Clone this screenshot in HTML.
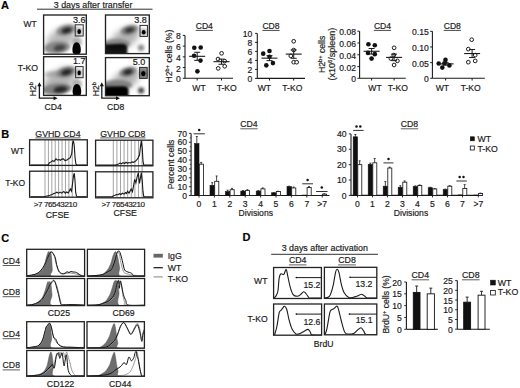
<!DOCTYPE html>
<html><head><meta charset="utf-8"><style>
html,body{margin:0;padding:0;background:#fff;}
svg{display:block;}
text{font-family:"Liberation Sans",sans-serif;stroke:#1a1a1a;stroke-width:0.18px;}
</style></head><body>
<svg width="520" height="388" viewBox="0 0 520 388">
<defs>
<filter id="b05" x="-50%" y="-50%" width="200%" height="200%"><feGaussianBlur stdDeviation="0.45"/></filter>
<filter id="b1" x="-50%" y="-50%" width="200%" height="200%"><feGaussianBlur stdDeviation="0.8"/></filter>
<filter id="b2" x="-50%" y="-50%" width="200%" height="200%"><feGaussianBlur stdDeviation="1.6"/></filter>
<filter id="b3" x="-50%" y="-50%" width="200%" height="200%"><feGaussianBlur stdDeviation="3"/></filter>
<filter id="speck" x="0" y="0" width="100%" height="100%" filterUnits="userSpaceOnUse"><feTurbulence type="fractalNoise" baseFrequency="1.0" numOctaves="2" seed="7" result="n"/><feColorMatrix in="n" type="matrix" values="0 0 0 0 0  0 0 0 0 0  0 0 0 0 0  5 0 0 0 -2.0" result="na"/><feComposite in="SourceGraphic" in2="na" operator="in" result="c"/><feGaussianBlur in="c" stdDeviation="0.35"/></filter>
</defs>
<rect x="0" y="0" width="520" height="388" fill="#fff"/>
<text x="1" y="9.4" font-size="11" text-anchor="start" fill="#000" font-weight="bold">A</text>
<text x="93.1" y="7.6" font-size="8.85" text-anchor="middle" fill="#1a1a1a">3 days after transfer</text>
<line x1="37" y1="9.2" x2="152.5" y2="9.2" stroke="#1a1a1a" stroke-width="0.9"/>
<text x="30.2" y="27.1" font-size="8.5" text-anchor="middle" fill="#1a1a1a">WT</text>
<text x="28.0" y="70.6" font-size="8.7" text-anchor="middle" fill="#1a1a1a">T-KO</text>
<clipPath id="c4315"><rect x="43.6" y="15.0" width="42.7" height="39.2"/></clipPath>
<g clip-path="url(#c4315)">
<rect x="43.6" y="15.0" width="42.7" height="39.2" fill="#fff" stroke="none" stroke-width="1"/>
<g filter="url(#speck)"><ellipse cx="61" cy="39" rx="17" ry="10" fill="#000" opacity="0.55" transform="rotate(-35 61 39)" filter="url(#b3)"/><ellipse cx="57" cy="47.5" rx="13" ry="6" fill="#000" opacity="0.9" transform="rotate(-5 57 47.5)" filter="url(#b2)"/><ellipse cx="66" cy="30" rx="10" ry="5" fill="#000" opacity="0.9" transform="rotate(-15 66 30)" filter="url(#b2)"/><ellipse cx="77" cy="42" rx="5" ry="5" fill="#000" opacity="0.6" transform="rotate(0 77 42)" filter="url(#b2)"/></g>
<ellipse cx="59.5" cy="47.8" rx="6" ry="3" fill="#000" opacity="0.5" transform="rotate(-10 59.5 47.8)" filter="url(#b2)"/>
<ellipse cx="66.6" cy="30.4" rx="5" ry="2.6" fill="#000" opacity="0.75" transform="rotate(-15 66.6 30.4)" filter="url(#b2)"/>
<path d="M76.6 42.3 C79.53999999999999 42.3 80.8 46.57 80.8 49.864 C80.8 54.5 78.69999999999999 54.5 76.6 54.5 C74.5 54.5 72.39999999999999 54.5 72.39999999999999 49.864 C72.39999999999999 46.57 73.66 42.3 76.6 42.3 Z" fill="#000" opacity="1.0" filter="url(#b05)"/>
</g>
<rect x="43.6" y="15.0" width="42.7" height="39.2" fill="none" stroke="#222" stroke-width="1.35"/>
<rect x="75.2" y="24.8" width="8.0" height="11.2" fill="none" stroke="#2a2a2a" stroke-width="1.0"/>
<ellipse cx="79.2" cy="31.4" rx="3.42" ry="4.25" fill="#000" opacity="0.25" filter="url(#b1)"/>
<ellipse cx="79.2" cy="31.4" rx="1.8" ry="2.5" fill="#000" filter="url(#b05)"/>
<text x="85.6" y="22.6" font-size="9.0" text-anchor="end" fill="#111">3.6</text>
<clipPath id="c4356"><rect x="43.6" y="56.7" width="42.7" height="38.7"/></clipPath>
<g clip-path="url(#c4356)">
<rect x="43.6" y="56.7" width="42.7" height="38.7" fill="#fff" stroke="none" stroke-width="1"/>
<g filter="url(#speck)"><ellipse cx="60" cy="80" rx="18" ry="10" fill="#000" opacity="0.6" transform="rotate(-30 60 80)" filter="url(#b3)"/><ellipse cx="52" cy="74" rx="8" ry="3" fill="#000" opacity="0.5" transform="rotate(-5 52 74)" filter="url(#b2)"/><ellipse cx="57" cy="89" rx="15" ry="5.5" fill="#000" opacity="1.0" transform="rotate(-5 57 89)" filter="url(#b2)"/><ellipse cx="66" cy="72" rx="10" ry="5" fill="#000" opacity="1.0" transform="rotate(-15 66 72)" filter="url(#b2)"/><ellipse cx="77" cy="84" rx="5" ry="5" fill="#000" opacity="0.6" transform="rotate(0 77 84)" filter="url(#b2)"/></g>
<ellipse cx="60.5" cy="89.5" rx="7" ry="3.3" fill="#000" opacity="0.7" transform="rotate(-8 60.5 89.5)" filter="url(#b2)"/>
<ellipse cx="66.5" cy="72.2" rx="5.5" ry="2.8" fill="#000" opacity="0.75" transform="rotate(-15 66.5 72.2)" filter="url(#b2)"/>
<path d="M76.9 84.0 C79.91000000000001 84.0 81.2 88.2 81.2 91.44 C81.2 96 79.05000000000001 96 76.9 96 C74.75 96 72.60000000000001 96 72.60000000000001 91.44 C72.60000000000001 88.2 73.89 84.0 76.9 84.0 Z" fill="#000" opacity="1.0" filter="url(#b05)"/>
</g>
<rect x="43.6" y="56.7" width="42.7" height="38.7" fill="none" stroke="#222" stroke-width="1.35"/>
<rect x="75.6" y="66.6" width="7.5" height="11.1" fill="none" stroke="#2a2a2a" stroke-width="1.0"/>
<ellipse cx="79.2" cy="72.9" rx="3.23" ry="4.08" fill="#000" opacity="0.25" filter="url(#b1)"/>
<ellipse cx="79.2" cy="72.9" rx="1.7" ry="2.4" fill="#000" filter="url(#b05)"/>
<text x="85.6" y="64.0" font-size="9.0" text-anchor="end" fill="#111">1.7</text>
<clipPath id="c10515"><rect x="105.5" y="15.0" width="43.8" height="38.6"/></clipPath>
<g clip-path="url(#c10515)">
<rect x="105.5" y="15.0" width="43.8" height="38.6" fill="#fff" stroke="none" stroke-width="1"/>
<g filter="url(#speck)"><ellipse cx="125" cy="38" rx="16" ry="9" fill="#000" opacity="0.6" transform="rotate(-30 125 38)" filter="url(#b3)"/><ellipse cx="116" cy="44" rx="14" ry="5" fill="#000" opacity="0.9" transform="rotate(0 116 44)" filter="url(#b2)"/><ellipse cx="129.4" cy="30" rx="9" ry="4.5" fill="#000" opacity="1.0" transform="rotate(-15 129.4 30)" filter="url(#b2)"/><ellipse cx="141" cy="47.8" rx="3.5" ry="3.5" fill="#000" opacity="0.7" transform="rotate(0 141 47.8)" filter="url(#b2)"/></g>
<path d="M104 44.5 L121.5 43.8 Q127 44 127.3 47.5 L127.3 55 L104 55 Z" fill="#000" opacity="0.92" filter="url(#b1)"/>
<ellipse cx="129.6" cy="30.0" rx="4.5" ry="2.3" fill="#000" opacity="0.65" transform="rotate(-15 129.6 30.0)" filter="url(#b2)"/>
<ellipse cx="141" cy="47.8" rx="2.0" ry="2.0" fill="#000" opacity="0.2" transform="rotate(0 141 47.8)" filter="url(#b2)"/>
</g>
<rect x="105.5" y="15.0" width="43.8" height="38.6" fill="none" stroke="#222" stroke-width="1.35"/>
<rect x="140.0" y="25.4" width="7.4" height="11.0" fill="none" stroke="#2a2a2a" stroke-width="1.0"/>
<ellipse cx="143.7" cy="32.2" rx="3.61" ry="3.74" fill="#000" opacity="0.25" filter="url(#b1)"/>
<ellipse cx="143.7" cy="32.2" rx="1.9" ry="2.2" fill="#000" filter="url(#b05)"/>
<text x="146.8" y="22.6" font-size="9.0" text-anchor="end" fill="#111">3.8</text>
<clipPath id="c10557"><rect x="105.5" y="57.6" width="43.8" height="38.1"/></clipPath>
<g clip-path="url(#c10557)">
<rect x="105.5" y="57.6" width="43.8" height="38.1" fill="#fff" stroke="none" stroke-width="1"/>
<g filter="url(#speck)"><ellipse cx="125" cy="80" rx="16" ry="9" fill="#000" opacity="0.6" transform="rotate(-30 125 80)" filter="url(#b3)"/><ellipse cx="117" cy="85" rx="15" ry="5" fill="#000" opacity="1.0" transform="rotate(0 117 85)" filter="url(#b2)"/><ellipse cx="128" cy="72" rx="9" ry="4.5" fill="#000" opacity="1.0" transform="rotate(-15 128 72)" filter="url(#b2)"/><ellipse cx="141" cy="90.4" rx="3.6" ry="3.6" fill="#000" opacity="0.9" transform="rotate(0 141 90.4)" filter="url(#b2)"/><rect x="139.6" y="67.4" width="7.6" height="11" fill="#000" opacity="0.8"/></g>
<path d="M104 86.6 L123 86.2 Q128.3 86.2 128.5 90 L128.5 97 L104 97 Z" fill="#000" opacity="1.0" filter="url(#b1)"/>
<ellipse cx="128" cy="72.0" rx="4.5" ry="2.4" fill="#000" opacity="0.75" transform="rotate(-15 128 72.0)" filter="url(#b2)"/>
<ellipse cx="141.2" cy="90.6" rx="2.0" ry="2.0" fill="#000" opacity="0.5" transform="rotate(0 141.2 90.6)" filter="url(#b1)"/>
</g>
<rect x="105.5" y="57.6" width="43.8" height="38.1" fill="none" stroke="#222" stroke-width="1.35"/>
<rect x="139.6" y="67.4" width="7.6" height="11.0" fill="none" stroke="#2a2a2a" stroke-width="1.0"/>
<ellipse cx="143.3" cy="73.6" rx="4.18" ry="4.42" fill="#000" opacity="0.25" filter="url(#b1)"/>
<ellipse cx="143.3" cy="73.6" rx="2.2" ry="2.6" fill="#000" filter="url(#b05)"/>
<text x="145.3" y="65.0" font-size="9.0" text-anchor="end" fill="#111">5.0</text>
<path d="M39.4 85.2 L39.4 98.2 L54.6 98.2" fill="none" stroke="#1a1a1a" stroke-width="1.3"/>
<path d="M37.3 86.2 L39.4 82.2 L41.5 86.2 Z" fill="#111" stroke="none" stroke-width="1"/>
<path d="M53.6 96.2 L57.6 98.2 L53.6 100.2 Z" fill="#111" stroke="none" stroke-width="1"/>
<text x="0" y="0" font-size="8.5" fill="#1a1a1a" transform="translate(36.1 96.2) rotate(-90)">H2<tspan font-size="5.5" dy="-3">b</tspan></text>
<text x="53.2" y="109.60000000000001" font-size="8.6" text-anchor="middle" fill="#1a1a1a">CD4</text>
<path d="M101.8 85.2 L101.8 98.2 L117 98.2" fill="none" stroke="#1a1a1a" stroke-width="1.3"/>
<path d="M99.7 86.2 L101.8 82.2 L103.89999999999999 86.2 Z" fill="#111" stroke="none" stroke-width="1"/>
<path d="M116.0 96.2 L120 98.2 L116.0 100.2 Z" fill="#111" stroke="none" stroke-width="1"/>
<text x="0" y="0" font-size="8.5" fill="#1a1a1a" transform="translate(98.5 96.2) rotate(-90)">H2<tspan font-size="5.5" dy="-3">b</tspan></text>
<text x="115.6" y="109.60000000000001" font-size="8.6" text-anchor="middle" fill="#1a1a1a">CD8</text>
<line x1="185.0" y1="35.4" x2="185.0" y2="78.3" stroke="#1a1a1a" stroke-width="1.1"/>
<line x1="185.0" y1="78.3" x2="233" y2="78.3" stroke="#1a1a1a" stroke-width="1.1"/>
<line x1="182.8" y1="78.3" x2="185.0" y2="78.3" stroke="#1a1a1a" stroke-width="1"/>
<text x="180.7" y="82.3" font-size="8.6" text-anchor="end" fill="#1a1a1a">0</text>
<line x1="182.8" y1="67.575" x2="185.0" y2="67.575" stroke="#1a1a1a" stroke-width="1"/>
<text x="180.7" y="71.575" font-size="8.6" text-anchor="end" fill="#1a1a1a">2</text>
<line x1="182.8" y1="56.849999999999994" x2="185.0" y2="56.849999999999994" stroke="#1a1a1a" stroke-width="1"/>
<text x="180.7" y="60.849999999999994" font-size="8.6" text-anchor="end" fill="#1a1a1a">4</text>
<line x1="182.8" y1="46.125" x2="185.0" y2="46.125" stroke="#1a1a1a" stroke-width="1"/>
<text x="180.7" y="50.125" font-size="8.6" text-anchor="end" fill="#1a1a1a">6</text>
<line x1="182.8" y1="35.4" x2="185.0" y2="35.4" stroke="#1a1a1a" stroke-width="1"/>
<text x="180.7" y="39.4" font-size="8.6" text-anchor="end" fill="#1a1a1a">8</text>
<line x1="197.2" y1="78.3" x2="197.2" y2="80.5" stroke="#1a1a1a" stroke-width="1"/>
<line x1="221.5" y1="78.3" x2="221.5" y2="80.5" stroke="#1a1a1a" stroke-width="1"/>
<text x="199" y="90.5" font-size="8.6" text-anchor="middle" fill="#1a1a1a">WT</text>
<text x="226.7" y="90.5" font-size="8.6" text-anchor="middle" fill="#1a1a1a">T-KO</text>
<text x="204.3" y="29.0" font-size="8.6" text-anchor="middle" fill="#1a1a1a">CD4</text>
<line x1="195.70000000000002" y1="30.4" x2="212.9" y2="30.4" stroke="#1a1a1a" stroke-width="0.8"/>
<circle cx="194.3" cy="47.73375" r="2.3" fill="#111" stroke="none" stroke-width="1"/>
<circle cx="200.7" cy="47.465625" r="2.3" fill="#111" stroke="none" stroke-width="1"/>
<circle cx="194.1" cy="55.777499999999996" r="2.3" fill="#111" stroke="none" stroke-width="1"/>
<circle cx="200.5" cy="60.60375" r="2.3" fill="#111" stroke="none" stroke-width="1"/>
<circle cx="197.4" cy="71.32875" r="2.3" fill="#111" stroke="none" stroke-width="1"/>
<circle cx="221.6" cy="53.31075" r="1.85" fill="#fff" stroke="#1a1a1a" stroke-width="1.0"/>
<circle cx="218" cy="58.995" r="1.85" fill="#fff" stroke="#1a1a1a" stroke-width="1.0"/>
<circle cx="224.7" cy="61.14" r="1.85" fill="#fff" stroke="#1a1a1a" stroke-width="1.0"/>
<circle cx="218.2" cy="68.379375" r="1.85" fill="#fff" stroke="#1a1a1a" stroke-width="1.0"/>
<circle cx="224.7" cy="66.288" r="1.85" fill="#fff" stroke="#1a1a1a" stroke-width="1.0"/>
<line x1="189.2" y1="56.31375" x2="205.2" y2="56.31375" stroke="#1a1a1a" stroke-width="1.1"/>
<line x1="197.2" y1="52.291875" x2="197.2" y2="60.335625" stroke="#1a1a1a" stroke-width="1"/>
<line x1="194.2" y1="52.291875" x2="200.2" y2="52.291875" stroke="#1a1a1a" stroke-width="1"/>
<line x1="194.2" y1="60.335625" x2="200.2" y2="60.335625" stroke="#1a1a1a" stroke-width="1"/>
<line x1="213.5" y1="61.676249999999996" x2="229.5" y2="61.676249999999996" stroke="#1a1a1a" stroke-width="1.1"/>
<line x1="221.5" y1="59.10225" x2="221.5" y2="64.25025" stroke="#1a1a1a" stroke-width="1"/>
<line x1="218.5" y1="59.10225" x2="224.5" y2="59.10225" stroke="#1a1a1a" stroke-width="1"/>
<line x1="218.5" y1="64.25025" x2="224.5" y2="64.25025" stroke="#1a1a1a" stroke-width="1"/>
<text x="0" y="0" font-size="8.6" fill="#1a1a1a" transform="translate(171.6 82.4) rotate(-90)">H2<tspan font-size="5.6" dy="-3">b+</tspan><tspan dy="3"> cells (%)</tspan></text>
<line x1="257.3" y1="33.4" x2="257.3" y2="78.4" stroke="#1a1a1a" stroke-width="1.1"/>
<line x1="257.3" y1="78.4" x2="305" y2="78.4" stroke="#1a1a1a" stroke-width="1.1"/>
<line x1="255.10000000000002" y1="78.4" x2="257.3" y2="78.4" stroke="#1a1a1a" stroke-width="1"/>
<text x="252.3" y="82.4" font-size="8.6" text-anchor="end" fill="#1a1a1a">0</text>
<line x1="255.10000000000002" y1="69.4" x2="257.3" y2="69.4" stroke="#1a1a1a" stroke-width="1"/>
<text x="252.3" y="73.4" font-size="8.6" text-anchor="end" fill="#1a1a1a">2</text>
<line x1="255.10000000000002" y1="60.400000000000006" x2="257.3" y2="60.400000000000006" stroke="#1a1a1a" stroke-width="1"/>
<text x="252.3" y="64.4" font-size="8.6" text-anchor="end" fill="#1a1a1a">4</text>
<line x1="255.10000000000002" y1="51.4" x2="257.3" y2="51.4" stroke="#1a1a1a" stroke-width="1"/>
<text x="252.3" y="55.4" font-size="8.6" text-anchor="end" fill="#1a1a1a">6</text>
<line x1="255.10000000000002" y1="42.4" x2="257.3" y2="42.4" stroke="#1a1a1a" stroke-width="1"/>
<text x="252.3" y="46.4" font-size="8.6" text-anchor="end" fill="#1a1a1a">8</text>
<line x1="255.10000000000002" y1="33.4" x2="257.3" y2="33.4" stroke="#1a1a1a" stroke-width="1"/>
<text x="252.3" y="37.4" font-size="8.6" text-anchor="end" fill="#1a1a1a">10</text>
<line x1="269.5" y1="78.4" x2="269.5" y2="80.60000000000001" stroke="#1a1a1a" stroke-width="1"/>
<line x1="293.7" y1="78.4" x2="293.7" y2="80.60000000000001" stroke="#1a1a1a" stroke-width="1"/>
<text x="264.4" y="90.5" font-size="8.6" text-anchor="middle" fill="#1a1a1a">WT</text>
<text x="292.3" y="90.5" font-size="8.6" text-anchor="middle" fill="#1a1a1a">T-KO</text>
<text x="271" y="29.0" font-size="8.6" text-anchor="middle" fill="#1a1a1a">CD8</text>
<line x1="262.4" y1="30.4" x2="279.6" y2="30.4" stroke="#1a1a1a" stroke-width="0.8"/>
<circle cx="263.2" cy="53.650000000000006" r="2.3" fill="#111" stroke="none" stroke-width="1"/>
<circle cx="269.5" cy="50.995000000000005" r="2.3" fill="#111" stroke="none" stroke-width="1"/>
<circle cx="269.5" cy="56.8" r="2.3" fill="#111" stroke="none" stroke-width="1"/>
<circle cx="272.9" cy="63.1" r="2.3" fill="#111" stroke="none" stroke-width="1"/>
<circle cx="266.3" cy="65.35000000000001" r="2.3" fill="#111" stroke="none" stroke-width="1"/>
<circle cx="293.7" cy="41.275" r="1.85" fill="#fff" stroke="#1a1a1a" stroke-width="1.0"/>
<circle cx="293.7" cy="50.05" r="1.85" fill="#fff" stroke="#1a1a1a" stroke-width="1.0"/>
<circle cx="290.8" cy="55.900000000000006" r="1.85" fill="#fff" stroke="#1a1a1a" stroke-width="1.0"/>
<circle cx="293.7" cy="62.2" r="1.85" fill="#fff" stroke="#1a1a1a" stroke-width="1.0"/>
<circle cx="296.7" cy="62.2" r="1.85" fill="#fff" stroke="#1a1a1a" stroke-width="1.0"/>
<line x1="261.5" y1="58.150000000000006" x2="277.5" y2="58.150000000000006" stroke="#1a1a1a" stroke-width="1.1"/>
<line x1="269.5" y1="55.675000000000004" x2="269.5" y2="60.62500000000001" stroke="#1a1a1a" stroke-width="1"/>
<line x1="266.5" y1="55.675000000000004" x2="272.5" y2="55.675000000000004" stroke="#1a1a1a" stroke-width="1"/>
<line x1="266.5" y1="60.62500000000001" x2="272.5" y2="60.62500000000001" stroke="#1a1a1a" stroke-width="1"/>
<line x1="285.7" y1="54.099999999999994" x2="301.7" y2="54.099999999999994" stroke="#1a1a1a" stroke-width="1.1"/>
<line x1="293.7" y1="49.91499999999999" x2="293.7" y2="58.285" stroke="#1a1a1a" stroke-width="1"/>
<line x1="290.7" y1="49.91499999999999" x2="296.7" y2="49.91499999999999" stroke="#1a1a1a" stroke-width="1"/>
<line x1="290.7" y1="58.285" x2="296.7" y2="58.285" stroke="#1a1a1a" stroke-width="1"/>
<text x="0" y="0" font-size="8.7" fill="#1a1a1a" transform="translate(324.6 73.0) rotate(-90)">H2<tspan font-size="5.6" dy="-3">b+</tspan><tspan dy="3"> cells</tspan></text>
<text x="0" y="0" font-size="9.0" fill="#1a1a1a" transform="translate(335.0 80.6) rotate(-90)">(x10<tspan font-size="5.9" dy="-3.2">6</tspan><tspan dy="3.2">/spleen)</tspan></text>
<line x1="359.6" y1="31.2" x2="359.6" y2="78.3" stroke="#1a1a1a" stroke-width="1.1"/>
<line x1="359.6" y1="78.3" x2="405.7" y2="78.3" stroke="#1a1a1a" stroke-width="1.1"/>
<line x1="357.40000000000003" y1="78.3" x2="359.6" y2="78.3" stroke="#1a1a1a" stroke-width="1"/>
<text x="356.0" y="82.3" font-size="8.6" text-anchor="end" fill="#1a1a1a">0</text>
<line x1="357.40000000000003" y1="66.525" x2="359.6" y2="66.525" stroke="#1a1a1a" stroke-width="1"/>
<text x="356.0" y="70.525" font-size="8.6" text-anchor="end" fill="#1a1a1a">0.02</text>
<line x1="357.40000000000003" y1="54.75" x2="359.6" y2="54.75" stroke="#1a1a1a" stroke-width="1"/>
<text x="356.0" y="58.75" font-size="8.6" text-anchor="end" fill="#1a1a1a">0.04</text>
<line x1="357.40000000000003" y1="42.97500000000001" x2="359.6" y2="42.97500000000001" stroke="#1a1a1a" stroke-width="1"/>
<text x="356.0" y="46.97500000000001" font-size="8.6" text-anchor="end" fill="#1a1a1a">0.06</text>
<line x1="357.40000000000003" y1="31.200000000000003" x2="359.6" y2="31.200000000000003" stroke="#1a1a1a" stroke-width="1"/>
<text x="356.0" y="35.2" font-size="8.6" text-anchor="end" fill="#1a1a1a">0.08</text>
<line x1="371.6" y1="78.3" x2="371.6" y2="80.5" stroke="#1a1a1a" stroke-width="1"/>
<line x1="394.1" y1="78.3" x2="394.1" y2="80.5" stroke="#1a1a1a" stroke-width="1"/>
<text x="375" y="90.5" font-size="8.6" text-anchor="middle" fill="#1a1a1a">WT</text>
<text x="397.8" y="90.5" font-size="8.6" text-anchor="middle" fill="#1a1a1a">T-KO</text>
<text x="382.5" y="29.0" font-size="8.6" text-anchor="middle" fill="#1a1a1a">CD4</text>
<line x1="373.9" y1="30.4" x2="391.1" y2="30.4" stroke="#1a1a1a" stroke-width="0.8"/>
<circle cx="368.4" cy="44.211375000000004" r="2.3" fill="#111" stroke="none" stroke-width="1"/>
<circle cx="374.8" cy="45.212250000000004" r="2.3" fill="#111" stroke="none" stroke-width="1"/>
<circle cx="368" cy="52.924875" r="2.3" fill="#111" stroke="none" stroke-width="1"/>
<circle cx="374.8" cy="54.16125" r="2.3" fill="#111" stroke="none" stroke-width="1"/>
<circle cx="371.6" cy="58.576875" r="2.3" fill="#111" stroke="none" stroke-width="1"/>
<circle cx="394.1" cy="47.80275" r="1.85" fill="#fff" stroke="#1a1a1a" stroke-width="1.0"/>
<circle cx="393.8" cy="55.10325" r="1.85" fill="#fff" stroke="#1a1a1a" stroke-width="1.0"/>
<circle cx="390.9" cy="58.576875" r="1.85" fill="#fff" stroke="#1a1a1a" stroke-width="1.0"/>
<circle cx="397.4" cy="60.873000000000005" r="1.85" fill="#fff" stroke="#1a1a1a" stroke-width="1.0"/>
<circle cx="394.1" cy="64.99425" r="1.85" fill="#fff" stroke="#1a1a1a" stroke-width="1.0"/>
<line x1="363.6" y1="51.276375" x2="379.6" y2="51.276375" stroke="#1a1a1a" stroke-width="1.1"/>
<line x1="371.6" y1="48.50925" x2="371.6" y2="54.0435" stroke="#1a1a1a" stroke-width="1"/>
<line x1="368.6" y1="48.50925" x2="374.6" y2="48.50925" stroke="#1a1a1a" stroke-width="1"/>
<line x1="368.6" y1="54.0435" x2="374.6" y2="54.0435" stroke="#1a1a1a" stroke-width="1"/>
<line x1="386.1" y1="57.399375000000006" x2="402.1" y2="57.399375000000006" stroke="#1a1a1a" stroke-width="1.1"/>
<line x1="394.1" y1="54.16125000000001" x2="394.1" y2="60.6375" stroke="#1a1a1a" stroke-width="1"/>
<line x1="391.1" y1="54.16125000000001" x2="397.1" y2="54.16125000000001" stroke="#1a1a1a" stroke-width="1"/>
<line x1="391.1" y1="60.6375" x2="397.1" y2="60.6375" stroke="#1a1a1a" stroke-width="1"/>
<line x1="432.4" y1="31.3" x2="432.4" y2="78.3" stroke="#1a1a1a" stroke-width="1.1"/>
<line x1="432.4" y1="78.3" x2="484.8" y2="78.3" stroke="#1a1a1a" stroke-width="1.1"/>
<line x1="430.2" y1="78.3" x2="432.4" y2="78.3" stroke="#1a1a1a" stroke-width="1"/>
<text x="428.79999999999995" y="82.3" font-size="8.6" text-anchor="end" fill="#1a1a1a">0</text>
<line x1="430.2" y1="62.633333333333326" x2="432.4" y2="62.633333333333326" stroke="#1a1a1a" stroke-width="1"/>
<text x="428.79999999999995" y="66.63333333333333" font-size="8.6" text-anchor="end" fill="#1a1a1a">0.05</text>
<line x1="430.2" y1="46.966666666666654" x2="432.4" y2="46.966666666666654" stroke="#1a1a1a" stroke-width="1"/>
<text x="428.79999999999995" y="50.966666666666654" font-size="8.6" text-anchor="end" fill="#1a1a1a">0.10</text>
<line x1="430.2" y1="31.29999999999999" x2="432.4" y2="31.29999999999999" stroke="#1a1a1a" stroke-width="1"/>
<text x="428.79999999999995" y="35.29999999999999" font-size="8.6" text-anchor="end" fill="#1a1a1a">0.15</text>
<line x1="445.6" y1="78.3" x2="445.6" y2="80.5" stroke="#1a1a1a" stroke-width="1"/>
<line x1="472.1" y1="78.3" x2="472.1" y2="80.5" stroke="#1a1a1a" stroke-width="1"/>
<text x="442.4" y="90.5" font-size="8.6" text-anchor="middle" fill="#1a1a1a">WT</text>
<text x="470.7" y="90.5" font-size="8.6" text-anchor="middle" fill="#1a1a1a">T-KO</text>
<text x="452.3" y="29.0" font-size="8.6" text-anchor="middle" fill="#1a1a1a">CD8</text>
<line x1="443.7" y1="30.4" x2="460.90000000000003" y2="30.4" stroke="#1a1a1a" stroke-width="0.8"/>
<circle cx="438.7" cy="63.510666666666665" r="2.3" fill="#111" stroke="none" stroke-width="1"/>
<circle cx="445.5" cy="59.90733333333333" r="2.3" fill="#111" stroke="none" stroke-width="1"/>
<circle cx="442.3" cy="67.584" r="2.3" fill="#111" stroke="none" stroke-width="1"/>
<circle cx="449.4" cy="65.39066666666666" r="2.3" fill="#111" stroke="none" stroke-width="1"/>
<circle cx="444.5" cy="63.25999999999999" r="2.3" fill="#111" stroke="none" stroke-width="1"/>
<circle cx="471.7" cy="39.697333333333326" r="1.85" fill="#fff" stroke="#1a1a1a" stroke-width="1.0"/>
<circle cx="468.3" cy="49.097333333333324" r="1.85" fill="#fff" stroke="#1a1a1a" stroke-width="1.0"/>
<circle cx="475.2" cy="55.11333333333333" r="1.85" fill="#fff" stroke="#1a1a1a" stroke-width="1.0"/>
<circle cx="468.3" cy="62.19466666666666" r="1.85" fill="#fff" stroke="#1a1a1a" stroke-width="1.0"/>
<circle cx="475.2" cy="60.91" r="1.85" fill="#fff" stroke="#1a1a1a" stroke-width="1.0"/>
<line x1="437.6" y1="63.88666666666666" x2="453.6" y2="63.88666666666666" stroke="#1a1a1a" stroke-width="1.1"/>
<line x1="445.6" y1="62.63333333333333" x2="445.6" y2="65.14" stroke="#1a1a1a" stroke-width="1"/>
<line x1="442.6" y1="62.63333333333333" x2="448.6" y2="62.63333333333333" stroke="#1a1a1a" stroke-width="1"/>
<line x1="442.6" y1="65.14" x2="448.6" y2="65.14" stroke="#1a1a1a" stroke-width="1"/>
<line x1="464.1" y1="53.54666666666666" x2="480.1" y2="53.54666666666666" stroke="#1a1a1a" stroke-width="1.1"/>
<line x1="472.1" y1="49.535999999999994" x2="472.1" y2="57.557333333333325" stroke="#1a1a1a" stroke-width="1"/>
<line x1="469.1" y1="49.535999999999994" x2="475.1" y2="49.535999999999994" stroke="#1a1a1a" stroke-width="1"/>
<line x1="469.1" y1="57.557333333333325" x2="475.1" y2="57.557333333333325" stroke="#1a1a1a" stroke-width="1"/>
<text x="1.2" y="137.9" font-size="11" text-anchor="start" fill="#000" font-weight="bold">B</text>
<text x="17.6" y="154" font-size="8.5" text-anchor="middle" fill="#1a1a1a">WT</text>
<text x="15.2" y="185.5" font-size="8.5" text-anchor="middle" fill="#1a1a1a">T-KO</text>
<text x="57.95" y="136.5" font-size="8.75" text-anchor="middle" fill="#1a1a1a">GVHD CD4</text>
<line x1="35.3421875" y1="137.9" x2="80.55781250000001" y2="137.9" stroke="#1a1a1a" stroke-width="0.7"/>
<line x1="45.0" y1="140" x2="45.0" y2="197.2" stroke="#999" stroke-width="0.9"/>
<line x1="48.41" y1="140" x2="48.41" y2="197.2" stroke="#999" stroke-width="0.9"/>
<line x1="51.82" y1="140" x2="51.82" y2="197.2" stroke="#999" stroke-width="0.9"/>
<line x1="55.230000000000004" y1="140" x2="55.230000000000004" y2="197.2" stroke="#999" stroke-width="0.9"/>
<line x1="58.64" y1="140" x2="58.64" y2="197.2" stroke="#999" stroke-width="0.9"/>
<line x1="62.05" y1="140" x2="62.05" y2="197.2" stroke="#999" stroke-width="0.9"/>
<line x1="65.46000000000001" y1="140" x2="65.46000000000001" y2="197.2" stroke="#999" stroke-width="0.9"/>
<line x1="68.87" y1="140" x2="68.87" y2="197.2" stroke="#999" stroke-width="0.9"/>
<line x1="72.28" y1="140" x2="72.28" y2="197.2" stroke="#999" stroke-width="0.9"/>
<rect x="29.6" y="139.8" width="57.699999999999996" height="25.6" fill="none" stroke="#222" stroke-width="1.3"/>
<rect x="29.6" y="171.2" width="57.699999999999996" height="26.0" fill="none" stroke="#222" stroke-width="1.3"/>
<path d="M30.8 165.1 L47.5 165.1 L48.5 164.3 L49.5 162.6 L51.0 162.1 L52.5 160.6 L54.0 161.5 L56.0 158.9 L57.5 160.1 L59.0 159.6 L60.5 160.3 L62.0 159.1 L63.5 158.9 L65.0 160.6 L67.0 160.1 L68.5 158.8 L70.3 157.6 L71.8 153.1 L72.6 143.1 L73.3 140.6 L74.2 145.1 L75.0 157.1 L75.8 163.6 L76.8 165.1 L86.5 165.1" fill="none" stroke="#1a1a1a" stroke-width="1.1"/>
<path d="M30.8 196.7 L44.0 196.7 L46.0 196.2 L48.0 195.7 L50.0 195.2 L52.0 194.5 L54.0 193.5 L55.5 192.9 L56.8 192.2 L58.5 193.2 L60.2 192.1 L61.5 193.1 L63.8 191.5 L65.3 193.2 L66.7 192.0 L68.2 192.9 L70.3 189.0 L71.5 191.2 L72.5 183.7 L73.5 175.7 L74.3 173.2 L75.0 180.7 L75.7 192.7 L76.5 196.2 L77.5 196.7 L86.5 196.7" fill="none" stroke="#1a1a1a" stroke-width="1.1"/>
<text x="55.2" y="206.5" font-size="8.1" text-anchor="middle" fill="#1a1a1a" letter-spacing="-0.4">&gt;7 76543210</text>
<text x="57.5" y="217.9" font-size="8.8" text-anchor="middle" fill="#1a1a1a">CFSE</text>
<text x="122.85" y="136.5" font-size="8.75" text-anchor="middle" fill="#1a1a1a">GVHD CD8</text>
<line x1="100.2421875" y1="137.9" x2="145.4578125" y2="137.9" stroke="#1a1a1a" stroke-width="0.7"/>
<line x1="113.3" y1="140" x2="113.3" y2="197.8" stroke="#999" stroke-width="0.9"/>
<line x1="116.89999999999999" y1="140" x2="116.89999999999999" y2="197.8" stroke="#999" stroke-width="0.9"/>
<line x1="120.5" y1="140" x2="120.5" y2="197.8" stroke="#999" stroke-width="0.9"/>
<line x1="124.1" y1="140" x2="124.1" y2="197.8" stroke="#999" stroke-width="0.9"/>
<line x1="127.7" y1="140" x2="127.7" y2="197.8" stroke="#999" stroke-width="0.9"/>
<line x1="131.3" y1="140" x2="131.3" y2="197.8" stroke="#999" stroke-width="0.9"/>
<line x1="134.9" y1="140" x2="134.9" y2="197.8" stroke="#999" stroke-width="0.9"/>
<line x1="138.5" y1="140" x2="138.5" y2="197.8" stroke="#999" stroke-width="0.9"/>
<line x1="142.1" y1="140" x2="142.1" y2="197.8" stroke="#999" stroke-width="0.9"/>
<rect x="95.6" y="140.2" width="57.30000000000001" height="25.6" fill="none" stroke="#222" stroke-width="1.3"/>
<rect x="95.6" y="171.8" width="57.30000000000001" height="26.0" fill="none" stroke="#222" stroke-width="1.3"/>
<path d="M96.2 165.1 L115.5 165.1 L117.0 164.6 L118.5 164.1 L120.0 163.1 L121.5 163.8 L123.0 162.6 L124.5 163.5 L126.0 162.3 L127.5 163.3 L129.0 162.5 L130.5 163.0 L132.0 161.9 L133.5 162.3 L135.0 161.6 L136.5 160.1 L138.0 158.1 L139.5 155.1 L140.4 147.1 L141.3 140.9 L142.2 148.1 L143.0 161.1 L143.8 165.1 L152.3 165.1" fill="none" stroke="#1a1a1a" stroke-width="1.1"/>
<path d="M96.2 196.7 L112.0 196.7 L113.5 195.7 L115.0 195.3 L116.5 194.5 L118.0 194.7 L119.5 193.7 L121.0 194.5 L122.5 193.2 L124.0 194.1 L125.5 192.5 L126.5 193.5 L127.6 191.2 L129.0 193.1 L131.2 188.9 L132.5 191.7 L134.7 179.3 L135.9 182.9 L137.2 176.7 L138.3 172.8 L139.5 183.5 L141.3 172.8 L142.3 181.7 L143.0 191.7 L143.8 196.7 L152.3 196.7" fill="none" stroke="#1a1a1a" stroke-width="1.1"/>
<text x="123.1" y="206.5" font-size="8.1" text-anchor="middle" fill="#1a1a1a" letter-spacing="-0.4">&gt;7 76543210</text>
<text x="125.2" y="216.1" font-size="8.8" text-anchor="middle" fill="#1a1a1a">CFSE</text>
<text x="1.3" y="241.9" font-size="11" text-anchor="start" fill="#000" font-weight="bold">C</text>
<text x="11.3" y="263.6" font-size="8.7" text-anchor="middle" fill="#1a1a1a">CD4</text>
<line x1="2.6" y1="265.5" x2="20.0" y2="265.5" stroke="#1a1a1a" stroke-width="0.7"/>
<text x="11.3" y="294.8" font-size="8.7" text-anchor="middle" fill="#1a1a1a">CD8</text>
<line x1="2.6" y1="296.7" x2="20.0" y2="296.7" stroke="#1a1a1a" stroke-width="0.7"/>
<text x="11.3" y="336.8" font-size="8.7" text-anchor="middle" fill="#1a1a1a">CD4</text>
<line x1="2.6" y1="338.7" x2="20.0" y2="338.7" stroke="#1a1a1a" stroke-width="0.7"/>
<text x="11.3" y="368.0" font-size="8.7" text-anchor="middle" fill="#1a1a1a">CD8</text>
<line x1="2.6" y1="369.9" x2="20.0" y2="369.9" stroke="#1a1a1a" stroke-width="0.7"/>
<clipPath id="h26249"><rect x="26.7" y="249.3" width="57.89999999999999" height="27.0"/></clipPath>
<g clip-path="url(#h26249)">
<path d="M26.70 276.30 C27.08 276.25 27.62 276.25 29.00 276.00 C30.38 275.75 33.17 275.60 35.00 274.80 C36.83 274.00 38.55 272.52 40.00 271.20 C41.45 269.88 42.57 269.47 43.70 266.90 C44.83 264.33 45.98 258.37 46.80 255.80 C47.62 253.23 48.15 251.97 48.60 251.50 C49.05 251.03 49.18 252.95 49.50 253.00 C49.82 253.05 50.15 250.97 50.50 251.80 C50.85 252.63 51.30 254.97 51.60 258.00 C51.90 261.03 52.08 266.95 52.30 270.00 C52.52 273.05 47.52 275.25 52.90 276.30 C58.28 277.35 79.32 276.30 84.60 276.30 Z" fill="#6e6e6e" stroke="#555" stroke-width="0.5"/>
<path d="M27.00 275.80 C28.00 275.63 31.17 275.18 33.00 274.80 C34.83 274.42 36.50 274.30 38.00 273.50 C39.50 272.70 40.67 271.92 42.00 270.00 C43.33 268.08 44.83 264.50 46.00 262.00 C47.17 259.50 48.17 256.58 49.00 255.00 C49.83 253.42 50.42 252.97 51.00 252.50 C51.58 252.03 52.00 251.78 52.50 252.20 C53.00 252.62 53.50 253.53 54.00 255.00 C54.50 256.47 55.00 259.00 55.50 261.00 C56.00 263.00 56.42 265.17 57.00 267.00 C57.58 268.83 58.17 270.83 59.00 272.00 C59.83 273.17 60.83 273.75 62.00 274.00 C63.17 274.25 64.67 273.67 66.00 273.50 C67.33 273.33 68.67 273.00 70.00 273.00 C71.33 273.00 72.67 273.25 74.00 273.50 C75.33 273.75 76.67 274.10 78.00 274.50 C79.33 274.90 80.90 275.67 82.00 275.90 C83.10 276.13 84.17 275.90 84.60 275.90" fill="none" stroke="#9a9a9a" stroke-width="1.0"/>
<path d="M27.00 275.80 C28.00 275.63 31.17 275.27 33.00 274.80 C34.83 274.33 36.63 273.80 38.00 273.00 C39.37 272.20 40.03 271.50 41.20 270.00 C42.37 268.50 43.87 266.17 45.00 264.00 C46.13 261.83 47.17 258.83 48.00 257.00 C48.83 255.17 49.38 253.85 50.00 253.00 C50.62 252.15 51.20 251.82 51.70 251.90 C52.20 251.98 52.48 252.73 53.00 253.50 C53.52 254.27 54.33 255.42 54.80 256.50 C55.27 257.58 55.50 258.67 55.80 260.00 C56.10 261.33 56.07 262.63 56.60 264.50 C57.13 266.37 58.07 269.67 59.00 271.20 C59.93 272.73 61.20 273.37 62.20 273.70 C63.20 274.03 64.20 273.52 65.00 273.20 C65.80 272.88 66.33 271.92 67.00 271.80 C67.67 271.68 68.33 272.55 69.00 272.50 C69.67 272.45 70.33 271.58 71.00 271.50 C71.67 271.42 72.22 271.88 73.00 272.00 C73.78 272.12 74.87 271.95 75.70 272.20 C76.53 272.45 76.98 272.88 78.00 273.50 C79.02 274.12 80.70 275.50 81.80 275.90 C82.90 276.30 84.13 275.90 84.60 275.90" fill="none" stroke="#111" stroke-width="1.0"/>
</g>
<rect x="26.7" y="249.3" width="57.89999999999999" height="27.0" fill="none" stroke="#222" stroke-width="1.3"/>
<clipPath id="h26278"><rect x="26.7" y="278.5" width="57.89999999999999" height="27.100000000000023"/></clipPath>
<g clip-path="url(#h26278)">
<path d="M26.70 305.60 C27.08 305.55 27.82 305.50 29.00 305.30 C30.18 305.10 32.30 304.95 33.80 304.40 C35.30 303.85 36.63 303.07 38.00 302.00 C39.37 300.93 40.83 299.83 42.00 298.00 C43.17 296.17 44.17 293.33 45.00 291.00 C45.83 288.67 46.50 285.58 47.00 284.00 C47.50 282.42 47.67 281.67 48.00 281.50 C48.33 281.33 48.70 283.00 49.00 283.00 C49.30 283.00 49.47 281.17 49.80 281.50 C50.13 281.83 50.63 282.75 51.00 285.00 C51.37 287.25 51.73 291.57 52.00 295.00 C52.27 298.43 47.17 303.83 52.60 305.60 C58.03 307.37 79.27 305.60 84.60 305.60 Z" fill="#6e6e6e" stroke="#555" stroke-width="0.5"/>
<path d="M27.00 305.10 C28.00 304.98 31.17 304.78 33.00 304.40 C34.83 304.02 36.50 303.53 38.00 302.80 C39.50 302.07 40.67 301.47 42.00 300.00 C43.33 298.53 44.83 296.00 46.00 294.00 C47.17 292.00 48.08 289.75 49.00 288.00 C49.92 286.25 50.67 284.67 51.50 283.50 C52.33 282.33 53.25 281.00 54.00 281.00 C54.75 281.00 55.33 282.00 56.00 283.50 C56.67 285.00 57.42 287.75 58.00 290.00 C58.58 292.25 59.00 294.92 59.50 297.00 C60.00 299.08 60.50 301.20 61.00 302.50 C61.50 303.80 61.00 304.42 62.50 304.80 C64.00 305.18 66.32 304.75 70.00 304.80 C73.68 304.85 82.17 305.05 84.60 305.10" fill="none" stroke="#9a9a9a" stroke-width="1.0"/>
<path d="M27.00 305.10 C28.00 304.98 31.17 304.83 33.00 304.40 C34.83 303.97 36.50 303.32 38.00 302.50 C39.50 301.68 40.67 301.08 42.00 299.50 C43.33 297.92 44.83 295.08 46.00 293.00 C47.17 290.92 48.17 288.67 49.00 287.00 C49.83 285.33 50.25 284.12 51.00 283.00 C51.75 281.88 52.83 280.47 53.50 280.30 C54.17 280.13 54.50 280.88 55.00 282.00 C55.50 283.12 55.92 284.92 56.50 287.00 C57.08 289.08 57.92 292.17 58.50 294.50 C59.08 296.83 59.58 299.32 60.00 301.00 C60.42 302.68 60.33 303.97 61.00 304.60 C61.67 305.23 62.50 304.80 64.00 304.80 C65.50 304.80 67.67 304.60 70.00 304.60 C72.33 304.60 75.57 304.72 78.00 304.80 C80.43 304.88 83.50 305.05 84.60 305.10" fill="none" stroke="#111" stroke-width="1.0"/>
</g>
<rect x="26.7" y="278.5" width="57.89999999999999" height="27.100000000000023" fill="none" stroke="#222" stroke-width="1.3"/>
<clipPath id="h87249"><rect x="87.4" y="249.3" width="57.19999999999999" height="27.0"/></clipPath>
<g clip-path="url(#h87249)">
<path d="M87.40 276.30 C87.67 276.25 87.57 276.13 89.00 276.00 C90.43 275.87 93.75 275.78 96.00 275.50 C98.25 275.22 100.83 274.97 102.50 274.30 C104.17 273.63 104.98 272.52 106.00 271.50 C107.02 270.48 107.77 269.62 108.60 268.20 C109.43 266.78 110.27 265.03 111.00 263.00 C111.73 260.97 112.27 257.92 113.00 256.00 C113.73 254.08 114.65 251.50 115.40 251.50 C116.15 251.50 116.90 253.92 117.50 256.00 C118.10 258.08 118.63 262.00 119.00 264.00 C119.37 266.00 119.38 265.95 119.70 268.00 C120.02 270.05 116.75 274.92 120.90 276.30 C125.05 277.68 140.65 276.30 144.60 276.30 Z" fill="#6e6e6e" stroke="#555" stroke-width="0.5"/>
<path d="M88.00 275.90 C89.33 275.83 93.67 275.68 96.00 275.50 C98.33 275.32 100.33 275.22 102.00 274.80 C103.67 274.38 104.83 273.55 106.00 273.00 C107.17 272.45 108.00 272.33 109.00 271.50 C110.00 270.67 111.17 269.75 112.00 268.00 C112.83 266.25 113.33 263.33 114.00 261.00 C114.67 258.67 115.37 255.58 116.00 254.00 C116.63 252.42 117.22 251.33 117.80 251.50 C118.38 251.67 118.98 253.15 119.50 255.00 C120.02 256.85 120.40 260.27 120.90 262.60 C121.40 264.93 121.90 267.30 122.50 269.00 C123.10 270.70 123.58 271.97 124.50 272.80 C125.42 273.63 126.75 273.63 128.00 274.00 C129.25 274.37 129.23 274.68 132.00 275.00 C134.77 275.32 142.50 275.75 144.60 275.90" fill="none" stroke="#9a9a9a" stroke-width="1.0"/>
<path d="M88.00 275.90 C89.33 275.83 93.67 275.68 96.00 275.50 C98.33 275.32 100.33 275.25 102.00 274.80 C103.67 274.35 104.83 273.43 106.00 272.80 C107.17 272.17 108.17 271.47 109.00 271.00 C109.83 270.53 110.33 270.83 111.00 270.00 C111.67 269.17 112.33 267.67 113.00 266.00 C113.67 264.33 114.33 262.17 115.00 260.00 C115.67 257.83 116.42 254.50 117.00 253.00 C117.58 251.50 118.00 251.08 118.50 251.00 C119.00 250.92 119.38 250.97 120.00 252.50 C120.62 254.03 121.62 257.95 122.20 260.20 C122.78 262.45 123.10 264.37 123.50 266.00 C123.90 267.63 124.10 269.08 124.60 270.00 C125.10 270.92 125.68 271.08 126.50 271.50 C127.32 271.92 128.67 272.22 129.50 272.50 C130.33 272.78 130.67 272.63 131.50 273.20 C132.33 273.77 132.32 275.45 134.50 275.90 C136.68 276.35 142.92 275.90 144.60 275.90" fill="none" stroke="#111" stroke-width="1.0"/>
</g>
<rect x="87.4" y="249.3" width="57.19999999999999" height="27.0" fill="none" stroke="#222" stroke-width="1.3"/>
<clipPath id="h87278"><rect x="87.4" y="278.5" width="57.19999999999999" height="27.100000000000023"/></clipPath>
<g clip-path="url(#h87278)">
<path d="M87.40 305.60 C87.67 305.55 87.23 305.43 89.00 305.30 C90.77 305.17 95.35 305.38 98.00 304.80 C100.65 304.22 103.23 302.93 104.90 301.80 C106.57 300.67 107.07 299.43 108.00 298.00 C108.93 296.57 109.75 295.03 110.50 293.20 C111.25 291.37 111.92 288.87 112.50 287.00 C113.08 285.13 113.52 283.12 114.00 282.00 C114.48 280.88 115.07 280.30 115.40 280.30 C115.73 280.30 115.80 281.95 116.00 282.00 C116.20 282.05 116.27 280.10 116.60 280.60 C116.93 281.10 117.60 282.93 118.00 285.00 C118.40 287.07 118.72 289.57 119.00 293.00 C119.28 296.43 115.43 303.50 119.70 305.60 C123.97 307.70 140.45 305.60 144.60 305.60 Z" fill="#6e6e6e" stroke="#555" stroke-width="0.5"/>
<path d="M88.00 305.20 C89.67 305.13 95.33 305.12 98.00 304.80 C100.67 304.48 102.33 303.77 104.00 303.30 C105.67 302.83 106.83 302.55 108.00 302.00 C109.17 301.45 110.08 300.83 111.00 300.00 C111.92 299.17 112.75 298.33 113.50 297.00 C114.25 295.67 114.92 294.00 115.50 292.00 C116.08 290.00 116.53 286.83 117.00 285.00 C117.47 283.17 117.93 281.17 118.30 281.00 C118.67 280.83 118.92 284.03 119.20 284.00 C119.48 283.97 119.62 280.47 120.00 280.80 C120.38 281.13 121.00 283.47 121.50 286.00 C122.00 288.53 122.50 293.33 123.00 296.00 C123.50 298.67 124.00 300.48 124.50 302.00 C125.00 303.52 122.65 304.57 126.00 305.10 C129.35 305.63 141.50 305.18 144.60 305.20" fill="none" stroke="#9a9a9a" stroke-width="1.0"/>
<path d="M88.00 305.20 C89.67 305.13 95.33 305.17 98.00 304.80 C100.67 304.43 102.33 303.55 104.00 303.00 C105.67 302.45 106.83 302.17 108.00 301.50 C109.17 300.83 110.08 299.92 111.00 299.00 C111.92 298.08 112.75 297.33 113.50 296.00 C114.25 294.67 114.92 293.00 115.50 291.00 C116.08 289.00 116.50 285.78 117.00 284.00 C117.50 282.22 118.12 279.58 118.50 280.30 C118.88 281.02 119.00 288.18 119.30 288.30 C119.60 288.42 119.93 281.55 120.30 281.00 C120.67 280.45 120.98 282.75 121.50 285.00 C122.02 287.25 122.68 291.90 123.40 294.50 C124.12 297.10 124.98 298.83 125.80 300.60 C126.62 302.37 125.17 304.33 128.30 305.10 C131.43 305.87 141.88 305.18 144.60 305.20" fill="none" stroke="#111" stroke-width="1.0"/>
</g>
<rect x="87.4" y="278.5" width="57.19999999999999" height="27.100000000000023" fill="none" stroke="#222" stroke-width="1.3"/>
<clipPath id="h26321"><rect x="26.7" y="321.7" width="57.599999999999994" height="26.5"/></clipPath>
<g clip-path="url(#h26321)">
<path d="M26.70 348.20 C26.92 348.15 26.95 348.07 28.00 347.90 C29.05 347.73 31.42 347.47 33.00 347.20 C34.58 346.93 36.33 346.83 37.50 346.30 C38.67 345.77 39.17 344.92 40.00 344.00 C40.83 343.08 41.75 342.47 42.50 340.80 C43.25 339.13 43.88 336.17 44.50 334.00 C45.12 331.83 45.70 329.30 46.20 327.80 C46.70 326.30 47.00 325.72 47.50 325.00 C48.00 324.28 48.70 323.17 49.20 323.50 C49.70 323.83 50.08 324.58 50.50 327.00 C50.92 329.42 51.30 334.47 51.70 338.00 C52.10 341.53 47.47 346.50 52.90 348.20 C58.33 349.90 79.07 348.20 84.30 348.20 Z" fill="#6e6e6e" stroke="#555" stroke-width="0.5"/>
<path d="M27.00 347.80 C28.00 347.67 31.25 347.25 33.00 347.00 C34.75 346.75 36.33 346.72 37.50 346.30 C38.67 345.88 39.17 345.38 40.00 344.50 C40.83 343.62 41.75 342.67 42.50 341.00 C43.25 339.33 43.88 336.58 44.50 334.50 C45.12 332.42 45.65 330.00 46.20 328.50 C46.75 327.00 47.25 326.25 47.80 325.50 C48.35 324.75 48.92 323.75 49.50 324.00 C50.08 324.25 50.72 325.17 51.30 327.00 C51.88 328.83 52.38 332.83 53.00 335.00 C53.62 337.17 54.33 338.67 55.00 340.00 C55.67 341.33 56.17 342.08 57.00 343.00 C57.83 343.92 58.67 344.83 60.00 345.50 C61.33 346.17 60.95 346.62 65.00 347.00 C69.05 347.38 81.08 347.67 84.30 347.80" fill="none" stroke="#9a9a9a" stroke-width="1.0"/>
<path d="M27.00 347.80 C28.00 347.67 31.25 347.30 33.00 347.00 C34.75 346.70 36.33 346.50 37.50 346.00 C38.67 345.50 39.17 345.00 40.00 344.00 C40.83 343.00 41.75 341.83 42.50 340.00 C43.25 338.17 43.88 335.17 44.50 333.00 C45.12 330.83 45.70 328.25 46.20 327.00 C46.70 325.75 46.90 326.13 47.50 325.50 C48.10 324.87 49.13 322.78 49.80 323.20 C50.47 323.62 50.88 325.70 51.50 328.00 C52.12 330.30 52.92 335.25 53.50 337.00 C54.08 338.75 54.58 338.08 55.00 338.50 C55.42 338.92 55.42 338.50 56.00 339.50 C56.58 340.50 57.27 343.25 58.50 344.50 C59.73 345.75 61.48 346.55 63.40 347.00 C65.32 347.45 67.57 347.12 70.00 347.20 C72.43 347.28 75.62 347.40 78.00 347.50 C80.38 347.60 83.25 347.75 84.30 347.80" fill="none" stroke="#111" stroke-width="1.0"/>
</g>
<rect x="26.7" y="321.7" width="57.599999999999994" height="26.5" fill="none" stroke="#222" stroke-width="1.3"/>
<clipPath id="h26350"><rect x="26.7" y="350.5" width="57.599999999999994" height="25.80000000000001"/></clipPath>
<g clip-path="url(#h26350)">
<path d="M26.70 376.30 C26.92 376.25 26.45 376.17 28.00 376.00 C29.55 375.83 34.00 375.63 36.00 375.30 C38.00 374.97 38.72 374.58 40.00 374.00 C41.28 373.42 42.70 372.80 43.70 371.80 C44.70 370.80 45.38 369.22 46.00 368.00 C46.62 366.78 46.90 366.33 47.40 364.50 C47.90 362.67 48.53 358.92 49.00 357.00 C49.47 355.08 49.85 353.80 50.20 353.00 C50.55 352.20 50.80 351.87 51.10 352.20 C51.40 352.53 51.60 352.70 52.00 355.00 C52.40 357.30 53.03 362.45 53.50 366.00 C53.97 369.55 49.67 374.58 54.80 376.30 C59.93 378.02 79.38 376.30 84.30 376.30 Z" fill="#6e6e6e" stroke="#555" stroke-width="0.5"/>
<path d="M27.00 375.90 C28.50 375.80 33.50 375.53 36.00 375.30 C38.50 375.07 40.33 375.05 42.00 374.50 C43.67 373.95 44.83 372.83 46.00 372.00 C47.17 371.17 48.00 370.33 49.00 369.50 C50.00 368.67 51.17 367.58 52.00 367.00 C52.83 366.42 53.42 367.50 54.00 366.00 C54.58 364.50 55.00 360.17 55.50 358.00 C56.00 355.83 56.50 353.33 57.00 353.00 C57.50 352.67 58.00 356.17 58.50 356.00 C59.00 355.83 59.42 352.00 60.00 352.00 C60.58 352.00 61.42 355.92 62.00 356.00 C62.58 356.08 63.00 352.17 63.50 352.50 C64.00 352.83 64.50 358.08 65.00 358.00 C65.50 357.92 66.00 352.33 66.50 352.00 C67.00 351.67 67.42 354.17 68.00 356.00 C68.58 357.83 69.33 360.57 70.00 363.00 C70.67 365.43 71.25 368.68 72.00 370.60 C72.75 372.52 73.68 373.62 74.50 374.50 C75.32 375.38 75.27 375.67 76.90 375.90 C78.53 376.13 83.07 375.90 84.30 375.90" fill="none" stroke="#9a9a9a" stroke-width="1.0"/>
<path d="M27.00 375.90 C28.50 375.80 33.50 375.62 36.00 375.30 C38.50 374.98 40.33 374.72 42.00 374.00 C43.67 373.28 44.83 372.00 46.00 371.00 C47.17 370.00 48.17 368.83 49.00 368.00 C49.83 367.17 50.45 366.58 51.00 366.00 C51.55 365.42 51.77 364.13 52.30 364.50 C52.83 364.87 53.67 368.78 54.20 368.20 C54.73 367.62 55.10 363.17 55.50 361.00 C55.90 358.83 56.10 356.57 56.60 355.20 C57.10 353.83 57.98 352.28 58.50 352.80 C59.02 353.32 59.28 357.93 59.70 358.30 C60.12 358.67 60.58 355.82 61.00 355.00 C61.42 354.18 61.70 351.62 62.20 353.40 C62.70 355.18 63.50 364.60 64.00 365.70 C64.50 366.80 64.78 361.75 65.20 360.00 C65.62 358.25 65.98 353.43 66.50 355.20 C67.02 356.97 67.48 367.22 68.30 370.60 C69.12 373.98 70.62 374.62 71.40 375.50 C72.18 376.38 70.85 375.83 73.00 375.90 C75.15 375.97 82.42 375.90 84.30 375.90" fill="none" stroke="#111" stroke-width="1.0"/>
</g>
<rect x="26.7" y="350.5" width="57.599999999999994" height="25.80000000000001" fill="none" stroke="#222" stroke-width="1.3"/>
<clipPath id="h87321"><rect x="87.0" y="321.7" width="57.400000000000006" height="26.5"/></clipPath>
<g clip-path="url(#h87321)">
<path d="M87.00 348.20 C87.17 348.15 86.67 348.00 88.00 347.90 C89.33 347.80 93.00 347.70 95.00 347.60 C97.00 347.50 98.35 347.93 100.00 347.30 C101.65 346.67 103.65 345.02 104.90 343.80 C106.15 342.58 106.68 341.43 107.50 340.00 C108.32 338.57 109.05 337.20 109.80 335.20 C110.55 333.20 111.27 329.95 112.00 328.00 C112.73 326.05 113.62 323.50 114.20 323.50 C114.78 323.50 115.10 325.83 115.50 328.00 C115.90 330.17 116.22 334.00 116.60 336.50 C116.98 339.00 117.40 341.05 117.80 343.00 C118.20 344.95 114.57 347.33 119.00 348.20 C123.43 349.07 140.17 348.20 144.40 348.20 Z" fill="#6e6e6e" stroke="#555" stroke-width="0.5"/>
<path d="M87.00 347.80 C89.17 347.78 97.00 347.83 100.00 347.70 C103.00 347.57 103.57 347.23 105.00 347.00 C106.43 346.77 107.43 346.88 108.60 346.30 C109.77 345.72 110.97 344.38 112.00 343.50 C113.03 342.62 114.00 342.08 114.80 341.00 C115.60 339.92 116.18 338.42 116.80 337.00 C117.42 335.58 117.82 334.33 118.50 332.50 C119.18 330.67 120.07 327.67 120.90 326.00 C121.73 324.33 122.57 322.42 123.50 322.50 C124.43 322.58 125.42 324.75 126.50 326.50 C127.58 328.25 129.08 332.00 130.00 333.00 C130.92 334.00 131.17 333.58 132.00 332.50 C132.83 331.42 134.03 328.00 135.00 326.50 C135.97 325.00 136.93 322.75 137.80 323.50 C138.67 324.25 139.53 328.33 140.20 331.00 C140.87 333.67 141.33 339.17 141.80 339.50 C142.27 339.83 142.58 334.75 143.00 333.00 C143.42 331.25 144.08 329.67 144.30 329.00" fill="none" stroke="#9a9a9a" stroke-width="1.0"/>
<path d="M87.00 347.80 C89.17 347.78 97.00 347.80 100.00 347.70 C103.00 347.60 103.57 347.48 105.00 347.20 C106.43 346.92 107.43 346.70 108.60 346.00 C109.77 345.30 110.97 343.97 112.00 343.00 C113.03 342.03 114.00 341.37 114.80 340.20 C115.60 339.03 116.18 337.45 116.80 336.00 C117.42 334.55 117.82 333.27 118.50 331.50 C119.18 329.73 119.98 326.87 120.90 325.40 C121.82 323.93 122.98 322.30 124.00 322.70 C125.02 323.10 125.97 325.92 127.00 327.80 C128.03 329.68 129.37 333.07 130.20 334.00 C131.03 334.93 131.18 334.43 132.00 333.40 C132.82 332.37 134.18 329.23 135.10 327.80 C136.02 326.37 136.68 323.97 137.50 324.80 C138.32 325.63 139.28 330.03 140.00 332.80 C140.72 335.57 141.30 341.20 141.80 341.40 C142.30 341.60 142.58 335.90 143.00 334.00 C143.42 332.10 144.08 330.67 144.30 330.00" fill="none" stroke="#111" stroke-width="1.0"/>
</g>
<rect x="87.0" y="321.7" width="57.400000000000006" height="26.5" fill="none" stroke="#222" stroke-width="1.3"/>
<clipPath id="h87350"><rect x="87.0" y="350.5" width="57.400000000000006" height="25.80000000000001"/></clipPath>
<g clip-path="url(#h87350)">
<path d="M87.00 376.30 C87.17 376.25 86.17 376.13 88.00 376.00 C89.83 375.87 95.18 376.20 98.00 375.50 C100.82 374.80 103.32 372.97 104.90 371.80 C106.48 370.63 106.68 369.72 107.50 368.50 C108.32 367.28 109.05 366.33 109.80 364.50 C110.55 362.67 111.27 359.55 112.00 357.50 C112.73 355.45 113.62 352.28 114.20 352.20 C114.78 352.12 115.10 354.95 115.50 357.00 C115.90 359.05 116.18 362.17 116.60 364.50 C117.02 366.83 117.48 369.03 118.00 371.00 C118.52 372.97 115.30 375.42 119.70 376.30 C124.10 377.18 140.28 376.30 144.40 376.30 Z" fill="#6e6e6e" stroke="#555" stroke-width="0.5"/>
<path d="M87.00 375.90 C90.83 375.88 104.50 375.83 110.00 375.80 C115.50 375.77 117.57 375.83 120.00 375.70 C122.43 375.57 123.43 375.28 124.60 375.00 C125.77 374.72 126.18 374.42 127.00 374.00 C127.82 373.58 128.75 373.25 129.50 372.50 C130.25 371.75 130.88 370.63 131.50 369.50 C132.12 368.37 132.50 367.57 133.20 365.70 C133.90 363.83 135.08 360.58 135.70 358.30 C136.32 356.02 136.55 352.55 136.90 352.00 C137.25 351.45 137.48 353.33 137.80 355.00 C138.12 356.67 138.33 359.20 138.80 362.00 C139.27 364.80 140.07 369.48 140.60 371.80 C141.13 374.12 141.38 375.22 142.00 375.90 C142.62 376.58 143.92 375.90 144.30 375.90" fill="none" stroke="#9a9a9a" stroke-width="1.0"/>
<path d="M87.00 375.90 C89.17 375.83 96.83 375.68 100.00 375.50 C103.17 375.32 104.50 375.05 106.00 374.80 C107.50 374.55 107.95 374.38 109.00 374.00 C110.05 373.62 111.38 373.08 112.30 372.50 C113.22 371.92 113.68 371.12 114.50 370.50 C115.32 369.88 116.13 369.50 117.20 368.80 C118.27 368.10 119.77 367.33 120.90 366.30 C122.03 365.27 123.07 362.90 124.00 362.60 C124.93 362.30 125.68 365.42 126.50 364.50 C127.32 363.58 128.08 357.72 128.90 357.10 C129.72 356.48 130.58 360.70 131.40 360.80 C132.22 360.90 133.18 359.03 133.80 357.70 C134.42 356.37 134.68 353.83 135.10 352.80 C135.52 351.77 135.98 350.97 136.30 351.50 C136.62 352.03 136.68 354.67 137.00 356.00 C137.32 357.33 137.70 357.27 138.20 359.50 C138.70 361.73 139.40 366.67 140.00 369.40 C140.60 372.13 141.08 374.82 141.80 375.90 C142.52 376.98 143.88 375.90 144.30 375.90" fill="none" stroke="#111" stroke-width="1.0"/>
</g>
<rect x="87.0" y="350.5" width="57.400000000000006" height="25.80000000000001" fill="none" stroke="#222" stroke-width="1.3"/>
<text x="58.9" y="316.2" font-size="8.7" text-anchor="middle" fill="#1a1a1a">CD25</text>
<text x="123.5" y="316.2" font-size="8.7" text-anchor="middle" fill="#1a1a1a">CD69</text>
<text x="60.5" y="386.8" font-size="8.8" text-anchor="middle" fill="#1a1a1a">CD122</text>
<text x="120.2" y="386.8" font-size="8.7" text-anchor="middle" fill="#1a1a1a">CD44</text>
<rect x="153.5" y="253.8" width="9.3" height="3.8" fill="#666" stroke="none" stroke-width="1"/>
<text x="167.7" y="259.0" font-size="8.7" text-anchor="start" fill="#1a1a1a">IgG</text>
<line x1="153.5" y1="267.7" x2="162.8" y2="267.7" stroke="#111" stroke-width="1.2"/>
<text x="167.7" y="270.9" font-size="8.7" text-anchor="start" fill="#1a1a1a">WT</text>
<line x1="153.5" y1="276.9" x2="162.8" y2="276.9" stroke="#999" stroke-width="1.2"/>
<text x="167.7" y="281.5" font-size="8.7" text-anchor="start" fill="#1a1a1a">T-KO</text>
<line x1="191.1" y1="133.4" x2="191.1" y2="195.5" stroke="#1a1a1a" stroke-width="1.1"/>
<line x1="191.1" y1="195.5" x2="329.5" y2="195.5" stroke="#1a1a1a" stroke-width="1.1"/>
<line x1="188.9" y1="195.5" x2="191.1" y2="195.5" stroke="#1a1a1a" stroke-width="0.9"/>
<text x="187.1" y="198.6" font-size="8.6" text-anchor="end" fill="#1a1a1a">0</text>
<line x1="188.9" y1="186.62857142857143" x2="191.1" y2="186.62857142857143" stroke="#1a1a1a" stroke-width="0.9"/>
<text x="187.1" y="189.72857142857143" font-size="8.6" text-anchor="end" fill="#1a1a1a">10</text>
<line x1="188.9" y1="177.75714285714287" x2="191.1" y2="177.75714285714287" stroke="#1a1a1a" stroke-width="0.9"/>
<text x="187.1" y="180.85714285714286" font-size="8.6" text-anchor="end" fill="#1a1a1a">20</text>
<line x1="188.9" y1="168.8857142857143" x2="191.1" y2="168.8857142857143" stroke="#1a1a1a" stroke-width="0.9"/>
<text x="187.1" y="171.9857142857143" font-size="8.6" text-anchor="end" fill="#1a1a1a">30</text>
<line x1="188.9" y1="160.01428571428573" x2="191.1" y2="160.01428571428573" stroke="#1a1a1a" stroke-width="0.9"/>
<text x="187.1" y="163.11428571428573" font-size="8.6" text-anchor="end" fill="#1a1a1a">40</text>
<line x1="188.9" y1="151.14285714285717" x2="191.1" y2="151.14285714285717" stroke="#1a1a1a" stroke-width="0.9"/>
<text x="187.1" y="154.24285714285716" font-size="8.6" text-anchor="end" fill="#1a1a1a">50</text>
<line x1="188.9" y1="142.27142857142857" x2="191.1" y2="142.27142857142857" stroke="#1a1a1a" stroke-width="0.9"/>
<text x="187.1" y="145.37142857142857" font-size="8.6" text-anchor="end" fill="#1a1a1a">60</text>
<line x1="188.9" y1="133.4" x2="191.1" y2="133.4" stroke="#1a1a1a" stroke-width="0.9"/>
<text x="187.1" y="136.5" font-size="8.6" text-anchor="end" fill="#1a1a1a">70</text>
<line x1="189.79999999999998" y1="191.06428571428572" x2="191.1" y2="191.06428571428572" stroke="#1a1a1a" stroke-width="0.7"/>
<line x1="189.79999999999998" y1="182.19285714285715" x2="191.1" y2="182.19285714285715" stroke="#1a1a1a" stroke-width="0.7"/>
<line x1="189.79999999999998" y1="173.32142857142858" x2="191.1" y2="173.32142857142858" stroke="#1a1a1a" stroke-width="0.7"/>
<line x1="189.79999999999998" y1="164.45" x2="191.1" y2="164.45" stroke="#1a1a1a" stroke-width="0.7"/>
<line x1="189.79999999999998" y1="155.57857142857142" x2="191.1" y2="155.57857142857142" stroke="#1a1a1a" stroke-width="0.7"/>
<line x1="189.79999999999998" y1="146.70714285714286" x2="191.1" y2="146.70714285714286" stroke="#1a1a1a" stroke-width="0.7"/>
<line x1="189.79999999999998" y1="137.8357142857143" x2="191.1" y2="137.8357142857143" stroke="#1a1a1a" stroke-width="0.7"/>
<line x1="199.0" y1="195.5" x2="199.0" y2="197.5" stroke="#1a1a1a" stroke-width="0.9"/>
<text x="199.0" y="206.7" font-size="8.6" text-anchor="middle" fill="#1a1a1a">0</text>
<rect x="194.6" y="143.60214285714287" width="4.4" height="51.897857142857134" fill="#111" stroke="#111" stroke-width="0.6"/>
<line x1="196.8" y1="143.60214285714287" x2="196.8" y2="136.505" stroke="#1a1a1a" stroke-width="0.8"/>
<line x1="195.8" y1="136.505" x2="197.8" y2="136.505" stroke="#1a1a1a" stroke-width="0.8"/>
<rect x="199.3" y="164.18385714285716" width="4.1000000000000005" height="31.31614285714285" fill="#fff" stroke="#111" stroke-width="0.8"/>
<line x1="201.2" y1="164.18385714285716" x2="201.2" y2="162.40957142857144" stroke="#1a1a1a" stroke-width="0.8"/>
<line x1="200.2" y1="162.40957142857144" x2="202.2" y2="162.40957142857144" stroke="#1a1a1a" stroke-width="0.8"/>
<line x1="214.4" y1="195.5" x2="214.4" y2="197.5" stroke="#1a1a1a" stroke-width="0.9"/>
<text x="214.4" y="206.7" font-size="8.6" text-anchor="middle" fill="#1a1a1a">1</text>
<rect x="210.0" y="185.29785714285714" width="4.4" height="10.202142857142857" fill="#111" stroke="#111" stroke-width="0.6"/>
<line x1="212.20000000000002" y1="185.29785714285714" x2="212.20000000000002" y2="182.63642857142858" stroke="#1a1a1a" stroke-width="0.8"/>
<line x1="211.20000000000002" y1="182.63642857142858" x2="213.20000000000002" y2="182.63642857142858" stroke="#1a1a1a" stroke-width="0.8"/>
<rect x="214.70000000000002" y="181.3057142857143" width="4.1000000000000005" height="14.194285714285712" fill="#fff" stroke="#111" stroke-width="0.8"/>
<line x1="216.6" y1="181.3057142857143" x2="216.6" y2="175.98285714285714" stroke="#1a1a1a" stroke-width="0.8"/>
<line x1="215.6" y1="175.98285714285714" x2="217.6" y2="175.98285714285714" stroke="#1a1a1a" stroke-width="0.8"/>
<line x1="229.8" y1="195.5" x2="229.8" y2="197.5" stroke="#1a1a1a" stroke-width="0.9"/>
<text x="229.8" y="206.7" font-size="8.6" text-anchor="middle" fill="#1a1a1a">2</text>
<rect x="225.4" y="191.50785714285715" width="4.4" height="3.9921428571428565" fill="#111" stroke="#111" stroke-width="0.6"/>
<line x1="227.60000000000002" y1="191.50785714285715" x2="227.60000000000002" y2="190.17714285714285" stroke="#1a1a1a" stroke-width="0.8"/>
<line x1="226.60000000000002" y1="190.17714285714285" x2="228.60000000000002" y2="190.17714285714285" stroke="#1a1a1a" stroke-width="0.8"/>
<rect x="230.10000000000002" y="189.73357142857142" width="4.1000000000000005" height="5.766428571428571" fill="#fff" stroke="#111" stroke-width="0.8"/>
<line x1="232.0" y1="189.73357142857142" x2="232.0" y2="188.40285714285713" stroke="#1a1a1a" stroke-width="0.8"/>
<line x1="231.0" y1="188.40285714285713" x2="233.0" y2="188.40285714285713" stroke="#1a1a1a" stroke-width="0.8"/>
<line x1="245.2" y1="195.5" x2="245.2" y2="197.5" stroke="#1a1a1a" stroke-width="0.9"/>
<text x="245.2" y="206.7" font-size="8.6" text-anchor="middle" fill="#1a1a1a">3</text>
<rect x="240.79999999999998" y="191.06428571428572" width="4.4" height="4.435714285714285" fill="#111" stroke="#111" stroke-width="0.6"/>
<line x1="243.0" y1="191.06428571428572" x2="243.0" y2="190.62071428571429" stroke="#1a1a1a" stroke-width="0.8"/>
<line x1="242.0" y1="190.62071428571429" x2="244.0" y2="190.62071428571429" stroke="#1a1a1a" stroke-width="0.8"/>
<rect x="245.5" y="190.62071428571429" width="4.1000000000000005" height="4.879285714285714" fill="#fff" stroke="#111" stroke-width="0.8"/>
<line x1="247.39999999999998" y1="190.62071428571429" x2="247.39999999999998" y2="189.73357142857142" stroke="#1a1a1a" stroke-width="0.8"/>
<line x1="246.39999999999998" y1="189.73357142857142" x2="248.39999999999998" y2="189.73357142857142" stroke="#1a1a1a" stroke-width="0.8"/>
<line x1="260.6" y1="195.5" x2="260.6" y2="197.5" stroke="#1a1a1a" stroke-width="0.9"/>
<text x="260.6" y="206.7" font-size="8.6" text-anchor="middle" fill="#1a1a1a">4</text>
<rect x="256.20000000000005" y="191.06428571428572" width="4.4" height="4.435714285714285" fill="#111" stroke="#111" stroke-width="0.6"/>
<line x1="258.40000000000003" y1="191.06428571428572" x2="258.40000000000003" y2="190.62071428571429" stroke="#1a1a1a" stroke-width="0.8"/>
<line x1="257.40000000000003" y1="190.62071428571429" x2="259.40000000000003" y2="190.62071428571429" stroke="#1a1a1a" stroke-width="0.8"/>
<rect x="260.90000000000003" y="188.84642857142856" width="4.1000000000000005" height="6.653571428571428" fill="#fff" stroke="#111" stroke-width="0.8"/>
<line x1="262.8" y1="188.84642857142856" x2="262.8" y2="187.9592857142857" stroke="#1a1a1a" stroke-width="0.8"/>
<line x1="261.8" y1="187.9592857142857" x2="263.8" y2="187.9592857142857" stroke="#1a1a1a" stroke-width="0.8"/>
<line x1="276.0" y1="195.5" x2="276.0" y2="197.5" stroke="#1a1a1a" stroke-width="0.9"/>
<text x="276.0" y="206.7" font-size="8.6" text-anchor="middle" fill="#1a1a1a">5</text>
<rect x="271.6" y="192.83857142857144" width="4.4" height="2.661428571428571" fill="#111" stroke="#111" stroke-width="0.6"/>
<line x1="273.8" y1="192.83857142857144" x2="273.8" y2="192.5724285714286" stroke="#1a1a1a" stroke-width="0.8"/>
<line x1="272.8" y1="192.5724285714286" x2="274.8" y2="192.5724285714286" stroke="#1a1a1a" stroke-width="0.8"/>
<rect x="276.3" y="191.50785714285715" width="4.1000000000000005" height="3.9921428571428565" fill="#fff" stroke="#111" stroke-width="0.8"/>
<line x1="278.2" y1="191.50785714285715" x2="278.2" y2="191.2417142857143" stroke="#1a1a1a" stroke-width="0.8"/>
<line x1="277.2" y1="191.2417142857143" x2="279.2" y2="191.2417142857143" stroke="#1a1a1a" stroke-width="0.8"/>
<line x1="291.4" y1="195.5" x2="291.4" y2="197.5" stroke="#1a1a1a" stroke-width="0.9"/>
<text x="291.4" y="206.7" font-size="8.6" text-anchor="middle" fill="#1a1a1a">6</text>
<rect x="287.0" y="186.62857142857143" width="4.4" height="8.87142857142857" fill="#111" stroke="#111" stroke-width="0.6"/>
<line x1="289.2" y1="186.62857142857143" x2="289.2" y2="186.185" stroke="#1a1a1a" stroke-width="0.8"/>
<line x1="288.2" y1="186.185" x2="290.2" y2="186.185" stroke="#1a1a1a" stroke-width="0.8"/>
<rect x="291.7" y="187.95928571428573" width="4.1000000000000005" height="7.540714285714285" fill="#fff" stroke="#111" stroke-width="0.8"/>
<line x1="293.59999999999997" y1="187.95928571428573" x2="293.59999999999997" y2="187.07214285714286" stroke="#1a1a1a" stroke-width="0.8"/>
<line x1="292.59999999999997" y1="187.07214285714286" x2="294.59999999999997" y2="187.07214285714286" stroke="#1a1a1a" stroke-width="0.8"/>
<line x1="306.8" y1="195.5" x2="306.8" y2="197.5" stroke="#1a1a1a" stroke-width="0.9"/>
<text x="306.8" y="206.7" font-size="8.6" text-anchor="middle" fill="#1a1a1a">7</text>
<rect x="302.40000000000003" y="195.05642857142857" width="4.4" height="0.4435714285714285" fill="#111" stroke="#111" stroke-width="0.6"/>
<rect x="307.1" y="187.5157142857143" width="4.1000000000000005" height="7.984285714285713" fill="#fff" stroke="#111" stroke-width="0.8"/>
<line x1="309.0" y1="187.5157142857143" x2="309.0" y2="186.62857142857143" stroke="#1a1a1a" stroke-width="0.8"/>
<line x1="308.0" y1="186.62857142857143" x2="310.0" y2="186.62857142857143" stroke="#1a1a1a" stroke-width="0.8"/>
<line x1="322.2" y1="195.5" x2="322.2" y2="197.5" stroke="#1a1a1a" stroke-width="0.9"/>
<text x="322.2" y="206.7" font-size="8.6" text-anchor="middle" fill="#1a1a1a">&gt;7</text>
<rect x="322.5" y="194.1692857142857" width="4.1000000000000005" height="1.3307142857142855" fill="#fff" stroke="#111" stroke-width="0.8"/>
<line x1="324.4" y1="194.1692857142857" x2="324.4" y2="193.72571428571428" stroke="#1a1a1a" stroke-width="0.8"/>
<line x1="323.4" y1="193.72571428571428" x2="325.4" y2="193.72571428571428" stroke="#1a1a1a" stroke-width="0.8"/>
<text x="249.0" y="127.3" font-size="8.7" text-anchor="middle" fill="#1a1a1a">CD4</text>
<line x1="240.3" y1="128.8" x2="257.7" y2="128.8" stroke="#1a1a1a" stroke-width="0.7"/>
<text x="0" y="0" font-size="8.7" fill="#1a1a1a" text-anchor="middle" transform="translate(173.8 164.45) rotate(-90)">Percent cells</text>
<text x="255.8" y="215.6" font-size="8.6" text-anchor="middle" fill="#1a1a1a">Divisions</text>
<line x1="193.6" y1="133.8" x2="204.8" y2="133.8" stroke="#1a1a1a" stroke-width="0.9"/>
<circle cx="199.2" cy="129.9" r="1.25" fill="#111" stroke="none" stroke-width="1"/>
<line x1="302.2" y1="183.8" x2="313.0" y2="183.8" stroke="#1a1a1a" stroke-width="0.9"/>
<circle cx="307.6" cy="179.9" r="1.25" fill="#111" stroke="none" stroke-width="1"/>
<line x1="316.1" y1="191.5" x2="327.5" y2="191.5" stroke="#1a1a1a" stroke-width="0.9"/>
<circle cx="321.8" cy="187.6" r="1.25" fill="#111" stroke="none" stroke-width="1"/>
<line x1="351.0" y1="133.9" x2="351.0" y2="195.4" stroke="#1a1a1a" stroke-width="1.1"/>
<line x1="351.0" y1="195.4" x2="482" y2="195.4" stroke="#1a1a1a" stroke-width="1.1"/>
<line x1="348.8" y1="195.4" x2="351.0" y2="195.4" stroke="#1a1a1a" stroke-width="0.9"/>
<text x="346.5" y="198.5" font-size="8.6" text-anchor="end" fill="#1a1a1a">0</text>
<line x1="348.8" y1="180.025" x2="351.0" y2="180.025" stroke="#1a1a1a" stroke-width="0.9"/>
<text x="346.5" y="183.125" font-size="8.6" text-anchor="end" fill="#1a1a1a">10</text>
<line x1="348.8" y1="164.65" x2="351.0" y2="164.65" stroke="#1a1a1a" stroke-width="0.9"/>
<text x="346.5" y="167.75" font-size="8.6" text-anchor="end" fill="#1a1a1a">20</text>
<line x1="348.8" y1="149.275" x2="351.0" y2="149.275" stroke="#1a1a1a" stroke-width="0.9"/>
<text x="346.5" y="152.375" font-size="8.6" text-anchor="end" fill="#1a1a1a">30</text>
<line x1="348.8" y1="133.9" x2="351.0" y2="133.9" stroke="#1a1a1a" stroke-width="0.9"/>
<text x="346.5" y="137.0" font-size="8.6" text-anchor="end" fill="#1a1a1a">40</text>
<line x1="357.5" y1="195.4" x2="357.5" y2="197.4" stroke="#1a1a1a" stroke-width="0.9"/>
<text x="357.5" y="206.6" font-size="8.6" text-anchor="middle" fill="#1a1a1a">0</text>
<rect x="353.2" y="136.82125" width="4.3" height="58.57875000000001" fill="#111" stroke="#111" stroke-width="0.6"/>
<line x1="355.35" y1="136.82125" x2="355.35" y2="134.515" stroke="#1a1a1a" stroke-width="0.8"/>
<line x1="354.35" y1="134.515" x2="356.35" y2="134.515" stroke="#1a1a1a" stroke-width="0.8"/>
<rect x="357.8" y="164.65" width="4.0" height="30.75" fill="#fff" stroke="#111" stroke-width="0.8"/>
<line x1="359.65" y1="164.65" x2="359.65" y2="160.80625" stroke="#1a1a1a" stroke-width="0.8"/>
<line x1="358.65" y1="160.80625" x2="360.65" y2="160.80625" stroke="#1a1a1a" stroke-width="0.8"/>
<line x1="372.5" y1="195.4" x2="372.5" y2="197.4" stroke="#1a1a1a" stroke-width="0.9"/>
<text x="372.5" y="206.6" font-size="8.6" text-anchor="middle" fill="#1a1a1a">1</text>
<rect x="368.2" y="164.3425" width="4.3" height="31.0575" fill="#111" stroke="#111" stroke-width="0.6"/>
<line x1="370.35" y1="164.3425" x2="370.35" y2="163.1125" stroke="#1a1a1a" stroke-width="0.8"/>
<line x1="369.35" y1="163.1125" x2="371.35" y2="163.1125" stroke="#1a1a1a" stroke-width="0.8"/>
<rect x="372.8" y="162.805" width="4.0" height="32.595" fill="#fff" stroke="#111" stroke-width="0.8"/>
<line x1="374.65" y1="162.805" x2="374.65" y2="158.5" stroke="#1a1a1a" stroke-width="0.8"/>
<line x1="373.65" y1="158.5" x2="375.65" y2="158.5" stroke="#1a1a1a" stroke-width="0.8"/>
<line x1="387.5" y1="195.4" x2="387.5" y2="197.4" stroke="#1a1a1a" stroke-width="0.9"/>
<text x="387.5" y="206.6" font-size="8.6" text-anchor="middle" fill="#1a1a1a">2</text>
<rect x="383.2" y="186.175" width="4.3" height="9.225000000000001" fill="#111" stroke="#111" stroke-width="0.6"/>
<line x1="385.35" y1="186.175" x2="385.35" y2="181.5625" stroke="#1a1a1a" stroke-width="0.8"/>
<line x1="384.35" y1="181.5625" x2="386.35" y2="181.5625" stroke="#1a1a1a" stroke-width="0.8"/>
<rect x="387.8" y="168.0325" width="4.0" height="27.367500000000003" fill="#fff" stroke="#111" stroke-width="0.8"/>
<line x1="389.65" y1="168.0325" x2="389.65" y2="167.10999999999999" stroke="#1a1a1a" stroke-width="0.8"/>
<line x1="388.65" y1="167.10999999999999" x2="390.65" y2="167.10999999999999" stroke="#1a1a1a" stroke-width="0.8"/>
<line x1="402.5" y1="195.4" x2="402.5" y2="197.4" stroke="#1a1a1a" stroke-width="0.9"/>
<text x="402.5" y="206.6" font-size="8.6" text-anchor="middle" fill="#1a1a1a">3</text>
<rect x="398.2" y="187.25125" width="4.3" height="8.14875" fill="#111" stroke="#111" stroke-width="0.6"/>
<line x1="400.35" y1="187.25125" x2="400.35" y2="185.71375" stroke="#1a1a1a" stroke-width="0.8"/>
<line x1="399.35" y1="185.71375" x2="401.35" y2="185.71375" stroke="#1a1a1a" stroke-width="0.8"/>
<rect x="402.8" y="182.1775" width="4.0" height="13.2225" fill="#fff" stroke="#111" stroke-width="0.8"/>
<line x1="404.65" y1="182.1775" x2="404.65" y2="180.94750000000002" stroke="#1a1a1a" stroke-width="0.8"/>
<line x1="403.65" y1="180.94750000000002" x2="405.65" y2="180.94750000000002" stroke="#1a1a1a" stroke-width="0.8"/>
<line x1="417.5" y1="195.4" x2="417.5" y2="197.4" stroke="#1a1a1a" stroke-width="0.9"/>
<text x="417.5" y="206.6" font-size="8.6" text-anchor="middle" fill="#1a1a1a">4</text>
<rect x="413.2" y="186.48250000000002" width="4.3" height="8.9175" fill="#111" stroke="#111" stroke-width="0.6"/>
<line x1="415.35" y1="186.48250000000002" x2="415.35" y2="185.8675" stroke="#1a1a1a" stroke-width="0.8"/>
<line x1="414.35" y1="185.8675" x2="416.35" y2="185.8675" stroke="#1a1a1a" stroke-width="0.8"/>
<rect x="417.8" y="185.40625" width="4.0" height="9.99375" fill="#fff" stroke="#111" stroke-width="0.8"/>
<line x1="419.65" y1="185.40625" x2="419.65" y2="184.945" stroke="#1a1a1a" stroke-width="0.8"/>
<line x1="418.65" y1="184.945" x2="420.65" y2="184.945" stroke="#1a1a1a" stroke-width="0.8"/>
<line x1="432.5" y1="195.4" x2="432.5" y2="197.4" stroke="#1a1a1a" stroke-width="0.9"/>
<text x="432.5" y="206.6" font-size="8.6" text-anchor="middle" fill="#1a1a1a">5</text>
<rect x="428.2" y="187.7125" width="4.3" height="7.6875" fill="#111" stroke="#111" stroke-width="0.6"/>
<line x1="430.35" y1="187.7125" x2="430.35" y2="187.25125" stroke="#1a1a1a" stroke-width="0.8"/>
<line x1="429.35" y1="187.25125" x2="431.35" y2="187.25125" stroke="#1a1a1a" stroke-width="0.8"/>
<rect x="432.8" y="188.9425" width="4.0" height="6.4575000000000005" fill="#fff" stroke="#111" stroke-width="0.8"/>
<line x1="434.65" y1="188.9425" x2="434.65" y2="188.48125" stroke="#1a1a1a" stroke-width="0.8"/>
<line x1="433.65" y1="188.48125" x2="435.65" y2="188.48125" stroke="#1a1a1a" stroke-width="0.8"/>
<line x1="447.5" y1="195.4" x2="447.5" y2="197.4" stroke="#1a1a1a" stroke-width="0.9"/>
<text x="447.5" y="206.6" font-size="8.6" text-anchor="middle" fill="#1a1a1a">6</text>
<rect x="443.2" y="189.5575" width="4.3" height="5.8425" fill="#111" stroke="#111" stroke-width="0.6"/>
<line x1="445.35" y1="189.5575" x2="445.35" y2="189.09625" stroke="#1a1a1a" stroke-width="0.8"/>
<line x1="444.35" y1="189.09625" x2="446.35" y2="189.09625" stroke="#1a1a1a" stroke-width="0.8"/>
<rect x="447.8" y="186.175" width="4.0" height="9.225000000000001" fill="#fff" stroke="#111" stroke-width="0.8"/>
<line x1="449.65" y1="186.175" x2="449.65" y2="185.71375" stroke="#1a1a1a" stroke-width="0.8"/>
<line x1="448.65" y1="185.71375" x2="450.65" y2="185.71375" stroke="#1a1a1a" stroke-width="0.8"/>
<line x1="462.5" y1="195.4" x2="462.5" y2="197.4" stroke="#1a1a1a" stroke-width="0.9"/>
<text x="462.5" y="206.6" font-size="8.6" text-anchor="middle" fill="#1a1a1a">7</text>
<rect x="458.2" y="194.93875" width="4.3" height="0.46125" fill="#111" stroke="#111" stroke-width="0.6"/>
<rect x="462.8" y="188.48125000000002" width="4.0" height="6.91875" fill="#fff" stroke="#111" stroke-width="0.8"/>
<line x1="464.65" y1="188.48125000000002" x2="464.65" y2="184.63750000000002" stroke="#1a1a1a" stroke-width="0.8"/>
<line x1="463.65" y1="184.63750000000002" x2="465.65" y2="184.63750000000002" stroke="#1a1a1a" stroke-width="0.8"/>
<line x1="478.3" y1="195.4" x2="478.3" y2="197.4" stroke="#1a1a1a" stroke-width="0.9"/>
<text x="478.3" y="206.6" font-size="8.6" text-anchor="middle" fill="#1a1a1a">&gt;7</text>
<rect x="474.0" y="195.0925" width="4.3" height="0.30750000000000005" fill="#111" stroke="#111" stroke-width="0.6"/>
<rect x="478.6" y="193.555" width="4.0" height="1.845" fill="#fff" stroke="#111" stroke-width="0.8"/>
<line x1="480.45" y1="193.555" x2="480.45" y2="193.09375" stroke="#1a1a1a" stroke-width="0.8"/>
<line x1="479.45" y1="193.09375" x2="481.45" y2="193.09375" stroke="#1a1a1a" stroke-width="0.8"/>
<text x="409.5" y="127.3" font-size="8.7" text-anchor="middle" fill="#1a1a1a">CD8</text>
<line x1="400.8" y1="128.8" x2="418.2" y2="128.8" stroke="#1a1a1a" stroke-width="0.7"/>
<text x="0" y="0" font-size="8.7" fill="#1a1a1a" text-anchor="middle" transform="translate(340 164.65) rotate(-90)"></text>
<text x="411" y="215.6" font-size="8.6" text-anchor="middle" fill="#1a1a1a">Divisions</text>
<line x1="353.2" y1="130.4" x2="363.6" y2="130.4" stroke="#1a1a1a" stroke-width="0.9"/>
<circle cx="356.5" cy="126.5" r="1.25" fill="#111" stroke="none" stroke-width="1"/>
<circle cx="360.29999999999995" cy="126.5" r="1.25" fill="#111" stroke="none" stroke-width="1"/>
<line x1="383.5" y1="162.9" x2="393.5" y2="162.9" stroke="#1a1a1a" stroke-width="0.9"/>
<circle cx="388.5" cy="159.0" r="1.25" fill="#111" stroke="none" stroke-width="1"/>
<line x1="456.4" y1="181.0" x2="466.8" y2="181.0" stroke="#1a1a1a" stroke-width="0.9"/>
<circle cx="459.70000000000005" cy="177.1" r="1.25" fill="#111" stroke="none" stroke-width="1"/>
<circle cx="463.5" cy="177.1" r="1.25" fill="#111" stroke="none" stroke-width="1"/>
<rect x="470.3" y="136.8" width="4" height="4" fill="#111" stroke="#111" stroke-width="0.6"/>
<text x="477.5" y="141.6" font-size="8.7" text-anchor="start" fill="#1a1a1a">WT</text>
<rect x="470.3" y="146.0" width="4" height="4" fill="#fff" stroke="#111" stroke-width="0.8"/>
<text x="477.5" y="151.6" font-size="8.7" text-anchor="start" fill="#1a1a1a">T-KO</text>
<text x="242.6" y="241.0" font-size="11" text-anchor="start" fill="#000" font-weight="bold">D</text>
<text x="324.8" y="251.0" font-size="8.9" text-anchor="middle" fill="#1a1a1a">3 days after activation</text>
<line x1="271.2" y1="254.3" x2="378" y2="254.3" stroke="#1a1a1a" stroke-width="0.9"/>
<text x="297.7" y="263.1" font-size="8.8" text-anchor="middle" fill="#1a1a1a">CD4</text>
<line x1="288.9" y1="264.9" x2="306.5" y2="264.9" stroke="#1a1a1a" stroke-width="0.7"/>
<text x="347.0" y="263.1" font-size="8.8" text-anchor="middle" fill="#1a1a1a">CD8</text>
<line x1="338.1" y1="264.9" x2="355.9" y2="264.9" stroke="#1a1a1a" stroke-width="0.7"/>
<text x="260.8" y="283.9" font-size="8.6" text-anchor="middle" fill="#1a1a1a">WT</text>
<text x="257.6" y="322.0" font-size="8.6" text-anchor="middle" fill="#1a1a1a">T-KO</text>
<text x="323.6" y="347.1" font-size="8.6" text-anchor="middle" fill="#1a1a1a">BrdU</text>
<clipPath id="d273267"><rect x="273.6" y="267.5" width="47.799999999999955" height="31.0"/></clipPath>
<g clip-path="url(#d273267)">
<path d="M274.40 298.00 C274.75 297.50 275.90 296.25 276.50 295.00 C277.10 293.75 277.55 293.37 278.00 290.50 C278.45 287.63 278.70 280.58 279.20 277.80 C279.70 275.02 280.23 274.37 281.00 273.80 C281.77 273.23 282.93 275.12 283.80 274.40 C284.67 273.68 285.52 269.12 286.20 269.50 C286.88 269.88 287.23 273.77 287.90 276.70 C288.57 279.63 289.33 284.12 290.20 287.10 C291.07 290.08 291.95 293.07 293.10 294.60 C294.25 296.13 295.85 296.30 297.10 296.30 C298.35 296.30 299.50 295.37 300.60 294.60 C301.70 293.83 302.75 291.80 303.70 291.70 C304.65 291.60 305.38 292.97 306.30 294.00 C307.22 295.03 308.25 297.23 309.20 297.90 C310.15 298.57 309.97 297.98 312.00 298.00 C314.03 298.02 319.83 298.00 321.40 298.00" fill="none" stroke="#1a1a1a" stroke-width="1.1"/>
</g>
<rect x="273.6" y="267.5" width="47.799999999999955" height="31.0" fill="none" stroke="#222" stroke-width="1.3"/>
<line x1="296.3" y1="277.6" x2="321.4" y2="277.6" stroke="#1a1a1a" stroke-width="1.0"/>
<circle cx="296.3" cy="277.6" r="0.8" fill="#111" stroke="none" stroke-width="1"/>
<text x="320.4" y="287.7" font-size="8.7" text-anchor="end" fill="#1a1a1a">15.2</text>
<clipPath id="d324267"><rect x="324.4" y="267.3" width="52.400000000000034" height="31.099999999999966"/></clipPath>
<g clip-path="url(#d324267)">
<path d="M325.00 298.00 C325.50 297.88 327.10 297.87 328.00 297.30 C328.90 296.73 329.52 296.68 330.40 294.60 C331.28 292.52 332.43 288.55 333.30 284.80 C334.17 281.05 334.93 274.70 335.60 272.10 C336.27 269.50 336.73 269.10 337.30 269.20 C337.87 269.30 338.33 270.20 339.00 272.70 C339.67 275.20 340.43 280.85 341.30 284.20 C342.17 287.55 342.95 290.58 344.20 292.80 C345.45 295.02 347.07 296.82 348.80 297.50 C350.53 298.18 352.87 297.28 354.60 296.90 C356.33 296.52 358.00 295.65 359.20 295.20 C360.40 294.75 360.83 294.02 361.80 294.20 C362.77 294.38 364.08 295.67 365.00 296.30 C365.92 296.93 365.33 297.72 367.30 298.00 C369.27 298.28 375.22 298.00 376.80 298.00" fill="none" stroke="#1a1a1a" stroke-width="1.1"/>
</g>
<rect x="324.4" y="267.3" width="52.400000000000034" height="31.099999999999966" fill="none" stroke="#222" stroke-width="1.3"/>
<line x1="350.0" y1="277.3" x2="376.8" y2="277.3" stroke="#1a1a1a" stroke-width="1.0"/>
<circle cx="350.0" cy="277.3" r="0.8" fill="#111" stroke="none" stroke-width="1"/>
<text x="372.4" y="286.5" font-size="8.7" text-anchor="end" fill="#1a1a1a">13.2</text>
<clipPath id="d273304"><rect x="273.6" y="304.0" width="48.0" height="31.19999999999999"/></clipPath>
<g clip-path="url(#d273304)">
<path d="M274.50 335.00 C274.90 333.58 276.12 330.22 276.90 326.50 C277.68 322.78 278.52 315.38 279.20 312.70 C279.88 310.02 280.42 311.17 281.00 310.40 C281.58 309.63 282.13 308.78 282.70 308.10 C283.27 307.42 283.73 306.12 284.40 306.30 C285.07 306.48 285.93 306.98 286.70 309.20 C287.47 311.42 288.13 316.33 289.00 319.60 C289.87 322.87 290.73 326.40 291.90 328.80 C293.07 331.20 294.65 333.22 296.00 334.00 C297.35 334.78 298.57 334.02 300.00 333.50 C301.43 332.98 303.25 331.58 304.60 330.90 C305.95 330.22 307.13 329.17 308.10 329.40 C309.07 329.63 309.73 331.38 310.40 332.30 C311.07 333.22 310.23 334.47 312.10 334.90 C313.97 335.33 320.02 334.90 321.60 334.90" fill="none" stroke="#1a1a1a" stroke-width="1.1"/>
</g>
<rect x="273.6" y="304.0" width="48.0" height="31.19999999999999" fill="none" stroke="#222" stroke-width="1.3"/>
<line x1="296.3" y1="314.1" x2="321.6" y2="314.1" stroke="#1a1a1a" stroke-width="1.0"/>
<circle cx="296.3" cy="314.1" r="0.8" fill="#111" stroke="none" stroke-width="1"/>
<text x="320.4" y="324.8" font-size="8.7" text-anchor="end" fill="#1a1a1a">12.6</text>
<clipPath id="d324304"><rect x="324.4" y="304.0" width="52.400000000000034" height="30.80000000000001"/></clipPath>
<g clip-path="url(#d324304)">
<path d="M325.00 334.50 C325.32 333.55 326.10 332.43 326.90 328.80 C327.70 325.17 329.03 315.87 329.80 312.70 C330.57 309.53 330.83 310.47 331.50 309.80 C332.17 309.13 332.83 309.28 333.80 308.70 C334.77 308.12 336.33 305.45 337.30 306.30 C338.27 307.15 338.83 311.00 339.60 313.80 C340.37 316.60 341.03 320.02 341.90 323.10 C342.77 326.18 343.83 330.48 344.80 332.30 C345.77 334.12 346.25 333.80 347.70 334.00 C349.15 334.20 351.97 334.07 353.50 333.50 C355.03 332.93 355.65 331.57 356.90 330.60 C358.15 329.63 359.85 327.60 361.00 327.70 C362.15 327.80 362.93 330.07 363.80 331.20 C364.67 332.33 364.03 333.95 366.20 334.50 C368.37 335.05 375.03 334.50 376.80 334.50" fill="none" stroke="#1a1a1a" stroke-width="1.1"/>
</g>
<rect x="324.4" y="304.0" width="52.400000000000034" height="30.80000000000001" fill="none" stroke="#222" stroke-width="1.3"/>
<line x1="349.4" y1="314.1" x2="376.8" y2="314.1" stroke="#1a1a1a" stroke-width="1.0"/>
<circle cx="349.4" cy="314.1" r="0.8" fill="#111" stroke="none" stroke-width="1"/>
<text x="372.6" y="323.4" font-size="8.7" text-anchor="end" fill="#1a1a1a">15.1</text>
<line x1="406.4" y1="282.0" x2="406.4" y2="329.3" stroke="#1a1a1a" stroke-width="1.1"/>
<line x1="406.4" y1="329.3" x2="437.8" y2="329.3" stroke="#1a1a1a" stroke-width="1.1"/>
<line x1="404.2" y1="329.3" x2="406.4" y2="329.3" stroke="#1a1a1a" stroke-width="0.9"/>
<text x="401.79999999999995" y="332.90000000000003" font-size="8.6" text-anchor="end" fill="#1a1a1a">0</text>
<line x1="404.2" y1="317.475" x2="406.4" y2="317.475" stroke="#1a1a1a" stroke-width="0.9"/>
<text x="401.79999999999995" y="321.07500000000005" font-size="8.6" text-anchor="end" fill="#1a1a1a">5</text>
<line x1="404.2" y1="305.65" x2="406.4" y2="305.65" stroke="#1a1a1a" stroke-width="0.9"/>
<text x="401.79999999999995" y="309.25" font-size="8.6" text-anchor="end" fill="#1a1a1a">10</text>
<line x1="404.2" y1="293.825" x2="406.4" y2="293.825" stroke="#1a1a1a" stroke-width="0.9"/>
<text x="401.79999999999995" y="297.425" font-size="8.6" text-anchor="end" fill="#1a1a1a">15</text>
<line x1="404.2" y1="282.0" x2="406.4" y2="282.0" stroke="#1a1a1a" stroke-width="0.9"/>
<text x="401.79999999999995" y="285.6" font-size="8.6" text-anchor="end" fill="#1a1a1a">20</text>
<rect x="413.3" y="292.406" width="6.699999999999989" height="36.89400000000001" fill="#111" stroke="#111" stroke-width="0.9"/>
<line x1="416.65" y1="292.406" x2="416.65" y2="286.0205" stroke="#1a1a1a" stroke-width="0.9"/>
<line x1="415.15" y1="286.0205" x2="418.15" y2="286.0205" stroke="#1a1a1a" stroke-width="0.9"/>
<rect x="427.2" y="293.825" width="7.199999999999989" height="35.47500000000001" fill="#fff" stroke="#111" stroke-width="0.9"/>
<line x1="430.79999999999995" y1="293.825" x2="430.79999999999995" y2="288.149" stroke="#1a1a1a" stroke-width="0.9"/>
<line x1="429.29999999999995" y1="288.149" x2="432.29999999999995" y2="288.149" stroke="#1a1a1a" stroke-width="0.9"/>
<text x="420.3" y="278.2" font-size="8.8" text-anchor="middle" fill="#1a1a1a">CD4</text>
<line x1="411.5" y1="279.8" x2="429.1" y2="279.8" stroke="#1a1a1a" stroke-width="0.7"/>
<line x1="457.3" y1="280.6" x2="457.3" y2="329.2" stroke="#1a1a1a" stroke-width="1.1"/>
<line x1="457.3" y1="329.2" x2="489.8" y2="329.2" stroke="#1a1a1a" stroke-width="1.1"/>
<line x1="455.1" y1="329.2" x2="457.3" y2="329.2" stroke="#1a1a1a" stroke-width="0.9"/>
<text x="452.7" y="332.8" font-size="8.6" text-anchor="end" fill="#1a1a1a">0</text>
<line x1="455.1" y1="319.48" x2="457.3" y2="319.48" stroke="#1a1a1a" stroke-width="0.9"/>
<text x="452.7" y="323.08000000000004" font-size="8.6" text-anchor="end" fill="#1a1a1a">5</text>
<line x1="455.1" y1="309.76" x2="457.3" y2="309.76" stroke="#1a1a1a" stroke-width="0.9"/>
<text x="452.7" y="313.36" font-size="8.6" text-anchor="end" fill="#1a1a1a">10</text>
<line x1="455.1" y1="300.04" x2="457.3" y2="300.04" stroke="#1a1a1a" stroke-width="0.9"/>
<text x="452.7" y="303.64000000000004" font-size="8.6" text-anchor="end" fill="#1a1a1a">15</text>
<line x1="455.1" y1="290.32" x2="457.3" y2="290.32" stroke="#1a1a1a" stroke-width="0.9"/>
<text x="452.7" y="293.92" font-size="8.6" text-anchor="end" fill="#1a1a1a">20</text>
<line x1="455.1" y1="280.6" x2="457.3" y2="280.6" stroke="#1a1a1a" stroke-width="0.9"/>
<text x="452.7" y="284.20000000000005" font-size="8.6" text-anchor="end" fill="#1a1a1a">25</text>
<rect x="463.7" y="302.1784" width="6.900000000000034" height="27.02159999999998" fill="#111" stroke="#111" stroke-width="0.9"/>
<line x1="467.15" y1="302.1784" x2="467.15" y2="297.124" stroke="#1a1a1a" stroke-width="0.9"/>
<line x1="465.65" y1="297.124" x2="468.65" y2="297.124" stroke="#1a1a1a" stroke-width="0.9"/>
<rect x="478.1" y="295.18" width="6.899999999999977" height="34.019999999999975" fill="#fff" stroke="#111" stroke-width="0.9"/>
<line x1="481.55" y1="295.18" x2="481.55" y2="291.29200000000003" stroke="#1a1a1a" stroke-width="0.9"/>
<line x1="480.05" y1="291.29200000000003" x2="483.05" y2="291.29200000000003" stroke="#1a1a1a" stroke-width="0.9"/>
<text x="470.8" y="278.2" font-size="8.8" text-anchor="middle" fill="#1a1a1a">CD8</text>
<line x1="462.0" y1="279.8" x2="479.6" y2="279.8" stroke="#1a1a1a" stroke-width="0.7"/>
<text x="0" y="0" font-size="8.6" fill="#1a1a1a" text-anchor="middle" transform="translate(388.9 304.4) rotate(-90)">BrdU<tspan font-size="5.6" dy="-3">+</tspan><tspan dy="3"> cells (%)</tspan></text>
<rect x="490.6" y="280.2" width="4.7" height="4.8" fill="#111" stroke="#111" stroke-width="0.6"/>
<text x="497.8" y="285.8" font-size="8.8" text-anchor="start" fill="#1a1a1a">WT</text>
<rect x="490.6" y="290.4" width="4.7" height="4.6" fill="#fff" stroke="#111" stroke-width="0.8"/>
<text x="497.8" y="295.2" font-size="8.8" text-anchor="start" fill="#1a1a1a">T-KO</text>
</svg></body></html>
